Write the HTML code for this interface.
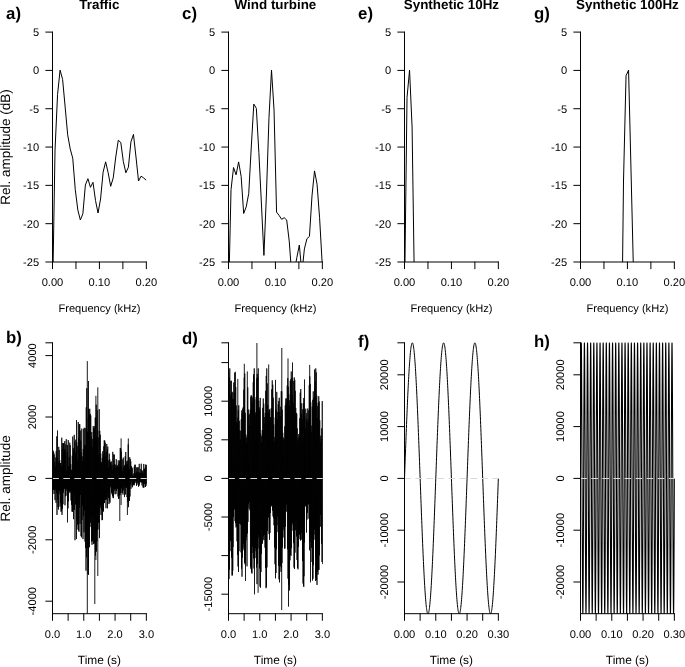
<!DOCTYPE html>
<html><head><meta charset="utf-8"><title>Figure</title>
<style>html,body{margin:0;padding:0;background:#fff;}svg{display:block;font-family:"Liberation Sans",sans-serif;text-rendering:geometricPrecision;}svg{will-change:transform;opacity:0.999}</style>
</head><body>
<svg width="685" height="667" viewBox="0 0 685 667">
<rect width="685" height="667" fill="#fff"/>
<clipPath id="c10"><rect x="52.00" y="30.10" width="95.35" height="231.90"/></clipPath>
<clipPath id="c20"><rect x="52.00" y="342.30" width="95.35" height="271.40"/></clipPath>
<clipPath id="c11"><rect x="228.00" y="30.10" width="95.35" height="231.90"/></clipPath>
<clipPath id="c21"><rect x="228.00" y="342.30" width="95.35" height="271.40"/></clipPath>
<clipPath id="c12"><rect x="404.00" y="30.10" width="95.35" height="231.90"/></clipPath>
<clipPath id="c22"><rect x="404.00" y="342.30" width="95.35" height="271.40"/></clipPath>
<clipPath id="c13"><rect x="580.00" y="30.10" width="95.35" height="231.90"/></clipPath>
<clipPath id="c23"><rect x="580.00" y="342.30" width="95.35" height="271.40"/></clipPath>
<path d="M52.50,300.00 L55.03,150.00 L57.56,94.60 L60.09,70.10 L62.62,79.50 L65.15,107.00 L67.68,134.80 L70.21,148.90 L72.74,158.20 L75.27,189.60 L77.80,209.90 L80.33,220.00 L82.86,213.80 L85.39,185.00 L87.92,178.70 L90.45,187.30 L92.98,182.30 L95.51,200.50 L98.04,213.00 L100.57,199.00 L103.10,172.20 L105.63,161.80 L108.16,172.80 L110.69,186.30 L113.22,177.90 L115.75,157.00 L118.28,140.20 L120.81,142.50 L123.34,161.60 L125.87,172.80 L128.40,167.20 L130.93,141.90 L133.46,134.40 L135.99,157.00 L138.52,181.00 L141.05,176.20 L143.58,177.90 L146.11,180.10" fill="none" stroke="#000" stroke-width="1.0" stroke-linejoin="round" clip-path="url(#c10)"/>
<line x1="52.50" y1="32.10" x2="52.50" y2="262.00" stroke="#000" stroke-width="1" stroke-linecap="round"/>
<line x1="45.80" y1="32.10" x2="52.50" y2="32.10" stroke="#000" stroke-width="1" stroke-linecap="round"/>
<text x="39.10" y="36.05" font-size="11.1" text-anchor="end" fill="#000">5</text>
<line x1="45.80" y1="70.42" x2="52.50" y2="70.42" stroke="#000" stroke-width="1" stroke-linecap="round"/>
<text x="39.10" y="74.37" font-size="11.1" text-anchor="end" fill="#000">0</text>
<line x1="45.80" y1="108.73" x2="52.50" y2="108.73" stroke="#000" stroke-width="1" stroke-linecap="round"/>
<text x="39.10" y="112.68" font-size="11.1" text-anchor="end" fill="#000">-5</text>
<line x1="45.80" y1="147.05" x2="52.50" y2="147.05" stroke="#000" stroke-width="1" stroke-linecap="round"/>
<text x="39.10" y="151.00" font-size="11.1" text-anchor="end" fill="#000">-10</text>
<line x1="45.80" y1="185.37" x2="52.50" y2="185.37" stroke="#000" stroke-width="1" stroke-linecap="round"/>
<text x="39.10" y="189.32" font-size="11.1" text-anchor="end" fill="#000">-15</text>
<line x1="45.80" y1="223.68" x2="52.50" y2="223.68" stroke="#000" stroke-width="1" stroke-linecap="round"/>
<text x="39.10" y="227.63" font-size="11.1" text-anchor="end" fill="#000">-20</text>
<line x1="45.80" y1="262.00" x2="52.50" y2="262.00" stroke="#000" stroke-width="1" stroke-linecap="round"/>
<text x="39.10" y="265.95" font-size="11.1" text-anchor="end" fill="#000">-25</text>
<line x1="52.50" y1="262.00" x2="146.35" y2="262.00" stroke="#000" stroke-width="1" stroke-linecap="round"/>
<line x1="52.50" y1="262.00" x2="52.50" y2="268.70" stroke="#000" stroke-width="1" stroke-linecap="round"/>
<text x="52.50" y="286.00" font-size="11.1" text-anchor="middle" fill="#000">0.00</text>
<line x1="75.96" y1="262.00" x2="75.96" y2="268.70" stroke="#000" stroke-width="1" stroke-linecap="round"/>
<line x1="99.42" y1="262.00" x2="99.42" y2="268.70" stroke="#000" stroke-width="1" stroke-linecap="round"/>
<text x="99.42" y="286.00" font-size="11.1" text-anchor="middle" fill="#000">0.10</text>
<line x1="122.89" y1="262.00" x2="122.89" y2="268.70" stroke="#000" stroke-width="1" stroke-linecap="round"/>
<line x1="146.35" y1="262.00" x2="146.35" y2="268.70" stroke="#000" stroke-width="1" stroke-linecap="round"/>
<text x="146.35" y="286.00" font-size="11.1" text-anchor="middle" fill="#000">0.20</text>
<text x="99.42" y="311.60" font-size="11.1" text-anchor="middle" fill="#000">Frequency (kHz)</text>
<text x="99.42" y="9.45" font-size="13.4" text-anchor="middle" font-weight="bold" fill="#000">Traffic</text>
<text x="6.10" y="18.80" font-size="16.8" text-anchor="start" font-weight="bold" fill="#000">a)</text>
<text x="6.10" y="342.50" font-size="16.8" text-anchor="start" font-weight="bold" fill="#000">b)</text>
<path d="M228.50,300.00 L231.03,189.60 L233.56,167.50 L236.09,174.80 L238.62,161.90 L241.15,176.40 L243.68,213.50 L246.21,206.80 L248.74,193.50 L251.27,147.00 L253.80,104.10 L256.33,108.30 L258.86,152.50 L261.39,203.00 L263.92,255.40 L266.45,194.00 L268.98,117.70 L271.51,70.10 L274.04,109.90 L276.57,212.20 L279.10,215.40 L281.63,219.30 L284.16,217.70 L286.69,220.00 L289.22,241.10 L291.75,275.00 L294.28,272.00 L296.81,257.70 L299.34,245.00 L301.87,273.00 L304.40,248.90 L306.93,238.70 L309.46,236.40 L311.99,195.90 L314.52,170.90 L317.05,184.20 L319.58,217.70 L322.11,262.00" fill="none" stroke="#000" stroke-width="1.0" stroke-linejoin="round" clip-path="url(#c11)"/>
<line x1="228.50" y1="32.10" x2="228.50" y2="262.00" stroke="#000" stroke-width="1" stroke-linecap="round"/>
<line x1="221.80" y1="32.10" x2="228.50" y2="32.10" stroke="#000" stroke-width="1" stroke-linecap="round"/>
<text x="215.10" y="36.05" font-size="11.1" text-anchor="end" fill="#000">5</text>
<line x1="221.80" y1="70.42" x2="228.50" y2="70.42" stroke="#000" stroke-width="1" stroke-linecap="round"/>
<text x="215.10" y="74.37" font-size="11.1" text-anchor="end" fill="#000">0</text>
<line x1="221.80" y1="108.73" x2="228.50" y2="108.73" stroke="#000" stroke-width="1" stroke-linecap="round"/>
<text x="215.10" y="112.68" font-size="11.1" text-anchor="end" fill="#000">-5</text>
<line x1="221.80" y1="147.05" x2="228.50" y2="147.05" stroke="#000" stroke-width="1" stroke-linecap="round"/>
<text x="215.10" y="151.00" font-size="11.1" text-anchor="end" fill="#000">-10</text>
<line x1="221.80" y1="185.37" x2="228.50" y2="185.37" stroke="#000" stroke-width="1" stroke-linecap="round"/>
<text x="215.10" y="189.32" font-size="11.1" text-anchor="end" fill="#000">-15</text>
<line x1="221.80" y1="223.68" x2="228.50" y2="223.68" stroke="#000" stroke-width="1" stroke-linecap="round"/>
<text x="215.10" y="227.63" font-size="11.1" text-anchor="end" fill="#000">-20</text>
<line x1="221.80" y1="262.00" x2="228.50" y2="262.00" stroke="#000" stroke-width="1" stroke-linecap="round"/>
<text x="215.10" y="265.95" font-size="11.1" text-anchor="end" fill="#000">-25</text>
<line x1="228.50" y1="262.00" x2="322.35" y2="262.00" stroke="#000" stroke-width="1" stroke-linecap="round"/>
<line x1="228.50" y1="262.00" x2="228.50" y2="268.70" stroke="#000" stroke-width="1" stroke-linecap="round"/>
<text x="228.50" y="286.00" font-size="11.1" text-anchor="middle" fill="#000">0.00</text>
<line x1="251.96" y1="262.00" x2="251.96" y2="268.70" stroke="#000" stroke-width="1" stroke-linecap="round"/>
<line x1="275.43" y1="262.00" x2="275.43" y2="268.70" stroke="#000" stroke-width="1" stroke-linecap="round"/>
<text x="275.43" y="286.00" font-size="11.1" text-anchor="middle" fill="#000">0.10</text>
<line x1="298.89" y1="262.00" x2="298.89" y2="268.70" stroke="#000" stroke-width="1" stroke-linecap="round"/>
<line x1="322.35" y1="262.00" x2="322.35" y2="268.70" stroke="#000" stroke-width="1" stroke-linecap="round"/>
<text x="322.35" y="286.00" font-size="11.1" text-anchor="middle" fill="#000">0.20</text>
<text x="275.43" y="311.60" font-size="11.1" text-anchor="middle" fill="#000">Frequency (kHz)</text>
<text x="275.43" y="9.45" font-size="13.4" text-anchor="middle" font-weight="bold" fill="#000">Wind turbine</text>
<text x="182.10" y="18.80" font-size="16.8" text-anchor="start" font-weight="bold" fill="#000">c)</text>
<text x="182.10" y="343.80" font-size="16.8" text-anchor="start" font-weight="bold" fill="#000">d)</text>
<path d="M404.50,300.00 L407.03,97.50 L409.56,70.10 L412.09,127.00 L414.62,300.00" fill="none" stroke="#000" stroke-width="1.0" stroke-linejoin="round" clip-path="url(#c12)"/>
<line x1="404.50" y1="32.10" x2="404.50" y2="262.00" stroke="#000" stroke-width="1" stroke-linecap="round"/>
<line x1="397.80" y1="32.10" x2="404.50" y2="32.10" stroke="#000" stroke-width="1" stroke-linecap="round"/>
<text x="391.10" y="36.05" font-size="11.1" text-anchor="end" fill="#000">5</text>
<line x1="397.80" y1="70.42" x2="404.50" y2="70.42" stroke="#000" stroke-width="1" stroke-linecap="round"/>
<text x="391.10" y="74.37" font-size="11.1" text-anchor="end" fill="#000">0</text>
<line x1="397.80" y1="108.73" x2="404.50" y2="108.73" stroke="#000" stroke-width="1" stroke-linecap="round"/>
<text x="391.10" y="112.68" font-size="11.1" text-anchor="end" fill="#000">-5</text>
<line x1="397.80" y1="147.05" x2="404.50" y2="147.05" stroke="#000" stroke-width="1" stroke-linecap="round"/>
<text x="391.10" y="151.00" font-size="11.1" text-anchor="end" fill="#000">-10</text>
<line x1="397.80" y1="185.37" x2="404.50" y2="185.37" stroke="#000" stroke-width="1" stroke-linecap="round"/>
<text x="391.10" y="189.32" font-size="11.1" text-anchor="end" fill="#000">-15</text>
<line x1="397.80" y1="223.68" x2="404.50" y2="223.68" stroke="#000" stroke-width="1" stroke-linecap="round"/>
<text x="391.10" y="227.63" font-size="11.1" text-anchor="end" fill="#000">-20</text>
<line x1="397.80" y1="262.00" x2="404.50" y2="262.00" stroke="#000" stroke-width="1" stroke-linecap="round"/>
<text x="391.10" y="265.95" font-size="11.1" text-anchor="end" fill="#000">-25</text>
<line x1="404.50" y1="262.00" x2="498.35" y2="262.00" stroke="#000" stroke-width="1" stroke-linecap="round"/>
<line x1="404.50" y1="262.00" x2="404.50" y2="268.70" stroke="#000" stroke-width="1" stroke-linecap="round"/>
<text x="404.50" y="286.00" font-size="11.1" text-anchor="middle" fill="#000">0.00</text>
<line x1="427.96" y1="262.00" x2="427.96" y2="268.70" stroke="#000" stroke-width="1" stroke-linecap="round"/>
<line x1="451.43" y1="262.00" x2="451.43" y2="268.70" stroke="#000" stroke-width="1" stroke-linecap="round"/>
<text x="451.43" y="286.00" font-size="11.1" text-anchor="middle" fill="#000">0.10</text>
<line x1="474.89" y1="262.00" x2="474.89" y2="268.70" stroke="#000" stroke-width="1" stroke-linecap="round"/>
<line x1="498.35" y1="262.00" x2="498.35" y2="268.70" stroke="#000" stroke-width="1" stroke-linecap="round"/>
<text x="498.35" y="286.00" font-size="11.1" text-anchor="middle" fill="#000">0.20</text>
<text x="451.43" y="311.60" font-size="11.1" text-anchor="middle" fill="#000">Frequency (kHz)</text>
<text x="451.43" y="9.45" font-size="13.4" text-anchor="middle" font-weight="bold" fill="#000">Synthetic 10Hz</text>
<text x="358.10" y="18.80" font-size="16.8" text-anchor="start" font-weight="bold" fill="#000">e)</text>
<text x="358.10" y="346.50" font-size="16.8" text-anchor="start" font-weight="bold" fill="#000">f)</text>
<path d="M620.98,400.00 L623.51,181.00 L626.04,75.70 L628.57,70.10 L631.10,174.00 L633.63,278.00 L636.16,400.00" fill="none" stroke="#000" stroke-width="1.0" stroke-linejoin="round" clip-path="url(#c13)"/>
<line x1="580.50" y1="32.10" x2="580.50" y2="262.00" stroke="#000" stroke-width="1" stroke-linecap="round"/>
<line x1="573.80" y1="32.10" x2="580.50" y2="32.10" stroke="#000" stroke-width="1" stroke-linecap="round"/>
<text x="567.10" y="36.05" font-size="11.1" text-anchor="end" fill="#000">5</text>
<line x1="573.80" y1="70.42" x2="580.50" y2="70.42" stroke="#000" stroke-width="1" stroke-linecap="round"/>
<text x="567.10" y="74.37" font-size="11.1" text-anchor="end" fill="#000">0</text>
<line x1="573.80" y1="108.73" x2="580.50" y2="108.73" stroke="#000" stroke-width="1" stroke-linecap="round"/>
<text x="567.10" y="112.68" font-size="11.1" text-anchor="end" fill="#000">-5</text>
<line x1="573.80" y1="147.05" x2="580.50" y2="147.05" stroke="#000" stroke-width="1" stroke-linecap="round"/>
<text x="567.10" y="151.00" font-size="11.1" text-anchor="end" fill="#000">-10</text>
<line x1="573.80" y1="185.37" x2="580.50" y2="185.37" stroke="#000" stroke-width="1" stroke-linecap="round"/>
<text x="567.10" y="189.32" font-size="11.1" text-anchor="end" fill="#000">-15</text>
<line x1="573.80" y1="223.68" x2="580.50" y2="223.68" stroke="#000" stroke-width="1" stroke-linecap="round"/>
<text x="567.10" y="227.63" font-size="11.1" text-anchor="end" fill="#000">-20</text>
<line x1="573.80" y1="262.00" x2="580.50" y2="262.00" stroke="#000" stroke-width="1" stroke-linecap="round"/>
<text x="567.10" y="265.95" font-size="11.1" text-anchor="end" fill="#000">-25</text>
<line x1="580.50" y1="262.00" x2="674.35" y2="262.00" stroke="#000" stroke-width="1" stroke-linecap="round"/>
<line x1="580.50" y1="262.00" x2="580.50" y2="268.70" stroke="#000" stroke-width="1" stroke-linecap="round"/>
<text x="580.50" y="286.00" font-size="11.1" text-anchor="middle" fill="#000">0.00</text>
<line x1="603.96" y1="262.00" x2="603.96" y2="268.70" stroke="#000" stroke-width="1" stroke-linecap="round"/>
<line x1="627.42" y1="262.00" x2="627.42" y2="268.70" stroke="#000" stroke-width="1" stroke-linecap="round"/>
<text x="627.42" y="286.00" font-size="11.1" text-anchor="middle" fill="#000">0.10</text>
<line x1="650.89" y1="262.00" x2="650.89" y2="268.70" stroke="#000" stroke-width="1" stroke-linecap="round"/>
<line x1="674.35" y1="262.00" x2="674.35" y2="268.70" stroke="#000" stroke-width="1" stroke-linecap="round"/>
<text x="674.35" y="286.00" font-size="11.1" text-anchor="middle" fill="#000">0.20</text>
<text x="627.42" y="311.60" font-size="11.1" text-anchor="middle" fill="#000">Frequency (kHz)</text>
<text x="627.42" y="9.45" font-size="13.4" text-anchor="middle" font-weight="bold" fill="#000">Synthetic 100Hz</text>
<text x="534.10" y="18.80" font-size="16.8" text-anchor="start" font-weight="bold" fill="#000">g)</text>
<text x="534.10" y="346.70" font-size="16.8" text-anchor="start" font-weight="bold" fill="#000">h)</text>
<text x="10.10" y="147.05" font-size="13.5" text-anchor="middle" transform="rotate(-90 10.10 147.05)" fill="#000">Rel. amplitude (dB)</text>
<text x="10.10" y="478.40" font-size="13.5" text-anchor="middle" transform="rotate(-90 10.10 478.40)" fill="#000">Rel. amplitude</text>
<path d="M52.75,464.54 L53.00,488.98 L53.25,450.69 L53.50,489.78 L53.75,452.54 L54.00,494.07 L54.25,454.44 L54.50,490.71 L54.75,462.19 L55.00,500.10 L55.25,466.18 L55.50,489.62 L55.75,457.49 L56.00,502.83 L56.25,450.96 L56.50,493.41 L56.75,436.35 L57.00,514.97 L57.25,457.57 L57.50,495.97 L57.75,470.74 L58.00,507.11 L58.25,461.85 L58.50,509.55 L58.75,446.87 L59.00,494.04 L59.25,450.06 L59.50,490.71 L59.75,460.19 L60.00,506.65 L60.25,463.16 L60.50,503.13 L60.75,463.00 L61.00,511.69 L61.25,465.95 L61.50,511.23 L61.75,437.69 L62.00,514.90 L62.25,449.40 L62.50,508.58 L62.75,443.27 L63.00,504.25 L63.25,443.18 L63.50,492.62 L63.75,443.08 L64.00,488.96 L64.25,448.90 L64.50,488.76 L64.75,441.17 L65.00,505.31 L65.25,450.25 L65.50,496.29 L65.75,444.43 L66.00,490.73 L66.25,439.19 L66.50,489.22 L66.75,470.48 L67.00,495.68 L67.25,452.44 L67.50,504.57 L67.75,466.70 L68.00,508.34 L68.25,440.05 L68.50,501.28 L68.75,465.91 L69.00,491.14 L69.25,456.82 L69.50,491.64 L69.75,442.68 L70.00,493.08 L70.25,445.13 L70.50,491.28 L70.75,464.25 L71.00,500.44 L71.25,469.90 L71.50,504.86 L71.75,469.83 L72.00,511.66 L72.25,455.56 L72.50,511.75 L72.75,436.56 L73.00,509.55 L73.25,447.93 L73.50,519.16 L73.75,450.60 L74.00,494.57 L74.25,434.85 L74.50,510.04 L74.75,441.72 L75.00,540.19 L75.25,452.68 L75.50,503.61 L75.75,439.62 L76.00,504.86 L76.25,454.62 L76.50,519.55 L76.75,442.56 L77.00,529.56 L77.25,445.94 L77.50,524.64 L77.75,459.57 L78.00,521.82 L78.25,421.96 L78.50,530.58 L78.75,437.41 L79.00,531.74 L79.25,424.24 L79.50,507.99 L79.75,424.11 L80.00,523.89 L80.25,430.64 L80.50,494.81 L80.75,440.56 L81.00,536.17 L81.25,452.24 L81.50,537.35 L81.75,428.61 L82.00,519.92 L82.25,456.39 L82.50,506.04 L82.75,461.05 L83.00,539.10 L83.25,448.94 L83.50,515.96 L83.75,428.86 L84.00,532.30 L84.25,427.75 L84.50,510.54 L84.75,445.23 L85.00,541.52 L85.25,445.30 L85.50,547.91 L85.75,428.09 L86.00,570.66 L86.25,407.36 L86.50,557.29 L86.75,388.22 L87.00,537.43 L87.25,433.26 L87.50,547.90 L87.75,431.53 L88.00,574.10 L88.25,417.84 L88.50,566.56 L88.75,409.16 L89.00,544.02 L89.25,414.93 L89.50,547.26 L89.75,408.78 L90.00,526.94 L90.25,413.85 L90.50,522.54 L90.75,415.49 L91.00,516.71 L91.25,437.23 L91.50,541.53 L91.75,431.99 L92.00,544.78 L92.25,447.27 L92.50,541.19 L92.75,439.00 L93.00,540.01 L93.25,425.99 L93.50,544.10 L93.75,428.08 L94.00,517.13 L94.25,428.91 L94.50,543.38 L94.75,426.17 L95.00,531.06 L95.25,417.60 L95.50,555.56 L95.75,417.86 L96.00,531.54 L96.25,404.67 L96.50,551.58 L96.75,436.79 L97.00,541.32 L97.25,410.26 L97.50,529.77 L97.75,430.52 L98.00,529.38 L98.25,437.46 L98.50,522.49 L98.75,455.17 L99.00,522.32 L99.25,409.18 L99.50,538.09 L99.75,430.81 L100.00,508.05 L100.25,434.79 L100.50,505.55 L100.75,453.44 L101.00,514.96 L101.25,462.04 L101.50,509.94 L101.75,462.45 L102.00,520.16 L102.25,457.94 L102.50,519.79 L102.75,451.26 L103.00,512.04 L103.25,454.75 L103.50,511.07 L103.75,446.34 L104.00,503.08 L104.25,440.29 L104.50,503.03 L104.75,440.65 L105.00,498.16 L105.25,442.73 L105.50,499.99 L105.75,456.41 L106.00,508.21 L106.25,451.95 L106.50,499.51 L106.75,443.96 L107.00,496.72 L107.25,449.54 L107.50,508.30 L107.75,446.62 L108.00,492.17 L108.25,460.42 L108.50,498.04 L108.75,466.92 L109.00,504.04 L109.25,453.67 L109.50,500.32 L109.75,459.41 L110.00,502.67 L110.25,462.40 L110.50,486.24 L110.75,462.17 L111.00,487.54 L111.25,461.40 L111.50,492.72 L111.75,464.68 L112.00,494.30 L112.25,470.17 L112.50,496.16 L112.75,451.84 L113.00,497.83 L113.25,465.11 L113.50,498.14 L113.75,454.28 L114.00,491.13 L114.25,454.80 L114.50,489.29 L114.75,464.20 L115.00,494.28 L115.25,467.88 L115.50,489.13 L115.75,464.83 L116.00,494.11 L116.25,459.14 L116.50,491.14 L116.75,466.88 L117.00,487.03 L117.25,465.59 L117.50,488.90 L117.75,465.67 L118.00,496.47 L118.25,460.38 L118.50,498.99 L118.75,463.84 L119.00,498.49 L119.25,468.39 L119.50,495.37 L119.75,461.06 L120.00,495.16 L120.25,447.96 L120.50,493.08 L120.75,448.41 L121.00,486.07 L121.25,451.43 L121.50,488.24 L121.75,466.31 L122.00,492.81 L122.25,471.45 L122.50,492.67 L122.75,459.56 L123.00,494.67 L123.25,457.57 L123.50,490.25 L123.75,467.38 L124.00,485.66 L124.25,466.70 L124.50,497.05 L124.75,464.92 L125.00,487.94 L125.25,456.26 L125.50,494.42 L125.75,452.00 L126.00,486.42 L126.25,464.33 L126.50,487.85 L126.75,461.19 L127.00,497.00 L127.25,463.85 L127.50,499.61 L127.75,460.62 L128.00,502.08 L128.25,444.40 L128.50,507.15 L128.75,467.15 L129.00,500.92 L129.25,469.42 L129.50,500.73 L129.75,457.26 L130.00,496.47 L130.25,459.14 L130.50,484.24 L130.75,461.41 L131.00,488.76 L131.25,466.01 L131.50,481.56 L131.75,467.11 L132.00,485.50 L132.25,468.20 L132.50,487.25 L132.75,475.09 L133.00,484.95 L133.25,475.89 L133.50,484.73 L133.75,473.40 L134.00,485.47 L134.25,466.86 L134.50,484.34 L134.75,464.84 L135.00,482.16 L135.25,464.71 L135.50,481.14 L135.75,473.97 L136.00,483.09 L136.25,471.71 L136.50,485.84 L136.75,467.36 L137.00,484.80 L137.25,467.40 L137.50,482.68 L137.75,472.19 L138.00,481.55 L138.25,467.31 L138.50,486.72 L138.75,472.42 L139.00,485.98 L139.25,463.89 L139.50,484.42 L139.75,472.55 L140.00,481.71 L140.25,473.06 L140.50,482.28 L140.75,468.96 L141.00,481.17 L141.25,463.73 L141.50,482.39 L141.75,470.89 L142.00,485.37 L142.25,472.65 L142.50,482.86 L142.75,470.51 L143.00,487.45 L143.25,472.97 L143.50,487.47 L143.75,463.94 L144.00,487.49 L144.25,468.79 L144.50,483.96 L144.75,469.27 L145.00,482.57 L145.25,467.55 L145.50,486.98 L145.75,464.49 L146.00,485.86 L146.25,464.97 L146.50,484.03" fill="none" stroke="#000" stroke-width="0.75" stroke-linejoin="round" clip-path="url(#c20)"/>
<line x1="87.30" y1="361.10" x2="87.30" y2="620.00" stroke="#000" stroke-width="0.9" clip-path="url(#c20)"/>
<line x1="88.50" y1="381.00" x2="88.50" y2="575.00" stroke="#000" stroke-width="0.9" clip-path="url(#c20)"/>
<line x1="97.80" y1="387.40" x2="97.80" y2="576.00" stroke="#000" stroke-width="0.9" clip-path="url(#c20)"/>
<line x1="95.90" y1="395.80" x2="95.90" y2="560.00" stroke="#000" stroke-width="0.9" clip-path="url(#c20)"/>
<line x1="94.80" y1="440.00" x2="94.80" y2="604.00" stroke="#000" stroke-width="0.9" clip-path="url(#c20)"/>
<line x1="57.50" y1="430.40" x2="57.50" y2="500.00" stroke="#000" stroke-width="0.9" clip-path="url(#c20)"/>
<line x1="121.10" y1="438.40" x2="121.10" y2="505.00" stroke="#000" stroke-width="0.9" clip-path="url(#c20)"/>
<line x1="128.30" y1="438.40" x2="128.30" y2="500.00" stroke="#000" stroke-width="0.9" clip-path="url(#c20)"/>
<line x1="119.80" y1="460.00" x2="119.80" y2="521.00" stroke="#000" stroke-width="0.9" clip-path="url(#c20)"/>
<line x1="127.40" y1="465.00" x2="127.40" y2="515.00" stroke="#000" stroke-width="0.9" clip-path="url(#c20)"/>
<line x1="76.50" y1="420.00" x2="76.50" y2="539.00" stroke="#000" stroke-width="0.9" clip-path="url(#c20)"/>
<line x1="67.50" y1="445.00" x2="67.50" y2="522.50" stroke="#000" stroke-width="0.9" clip-path="url(#c20)"/>
<path d="M228.75,372.10 L229.00,579.03 L229.25,377.13 L229.50,569.61 L229.75,368.40 L230.00,551.15 L230.25,380.81 L230.50,540.60 L230.75,394.76 L231.00,541.18 L231.25,401.92 L231.50,557.73 L231.75,392.88 L232.00,575.56 L232.25,391.82 L232.50,575.24 L232.75,399.44 L233.00,546.97 L233.25,398.75 L233.50,517.07 L233.75,382.49 L234.00,505.62 L234.25,392.82 L234.50,509.46 L234.75,372.80 L235.00,521.07 L235.25,371.82 L235.50,523.13 L235.75,387.16 L236.00,527.46 L236.25,405.52 L236.50,526.06 L236.75,421.77 L237.00,541.23 L237.25,423.84 L237.50,555.03 L237.75,417.76 L238.00,566.49 L238.25,410.23 L238.50,571.93 L238.75,405.31 L239.00,551.16 L239.25,420.86 L239.50,523.73 L239.75,430.25 L240.00,519.44 L240.25,439.35 L240.50,524.45 L240.75,430.85 L241.00,552.36 L241.25,419.34 L241.50,568.69 L241.75,410.40 L242.00,576.73 L242.25,413.79 L242.50,557.57 L242.75,408.54 L243.00,547.94 L243.25,407.21 L243.50,543.59 L243.75,389.71 L244.00,550.31 L244.25,377.67 L244.50,562.53 L244.75,373.48 L245.00,564.29 L245.25,412.83 L245.50,552.90 L245.75,434.34 L246.00,540.38 L246.25,437.72 L246.50,536.92 L246.75,442.64 L247.00,566.32 L247.25,435.51 L247.50,533.41 L247.75,387.40 L248.00,521.84 L248.25,409.52 L248.50,504.26 L248.75,415.11 L249.00,508.57 L249.25,425.26 L249.50,501.83 L249.75,413.77 L250.00,510.38 L250.25,409.66 L250.50,567.27 L250.75,396.71 L251.00,569.13 L251.25,395.23 L251.50,572.41 L251.75,395.91 L252.00,573.54 L252.25,402.68 L252.50,546.62 L252.75,397.60 L253.00,553.03 L253.25,382.25 L253.50,558.36 L253.75,374.09 L254.00,568.53 L254.25,368.40 L254.50,562.05 L254.75,399.38 L255.00,551.15 L255.25,412.36 L255.50,548.06 L255.75,414.92 L256.00,558.13 L256.25,397.00 L256.50,567.52 L256.75,378.38 L257.00,584.15 L257.25,373.89 L257.50,563.91 L257.75,377.29 L258.00,548.49 L258.25,368.40 L258.50,534.98 L258.75,400.75 L259.00,538.20 L259.25,407.29 L259.50,568.36 L259.75,410.30 L260.00,586.61 L260.25,397.90 L260.50,587.74 L260.75,433.76 L261.00,572.01 L261.25,442.64 L261.50,553.94 L261.75,436.15 L262.00,530.45 L262.25,430.07 L262.50,543.65 L262.75,407.89 L263.00,539.62 L263.25,398.48 L263.50,536.41 L263.75,403.65 L264.00,540.29 L264.25,417.03 L264.50,534.96 L264.75,423.39 L265.00,547.63 L265.25,412.98 L265.50,568.08 L265.75,390.82 L266.00,588.19 L266.25,375.93 L266.50,587.06 L266.75,368.40 L267.00,567.37 L267.25,383.38 L267.50,531.10 L267.75,405.03 L268.00,517.82 L268.25,413.19 L268.50,517.02 L268.75,411.91 L269.00,534.14 L269.25,409.75 L269.50,539.73 L269.75,409.35 L270.00,532.95 L270.25,417.05 L270.50,512.98 L270.75,417.48 L271.00,506.64 L271.25,408.13 L271.50,505.60 L271.75,389.38 L272.00,505.16 L272.25,380.37 L272.50,510.60 L272.75,384.68 L273.00,516.35 L273.25,397.76 L273.50,518.15 L273.75,424.37 L274.00,525.22 L274.25,441.23 L274.50,547.49 L274.75,436.96 L275.00,564.25 L275.25,417.31 L275.50,578.33 L275.75,409.28 L276.00,573.01 L276.25,410.76 L276.50,549.29 L276.75,391.86 L277.00,525.21 L277.25,419.06 L277.50,516.41 L277.75,412.01 L278.00,532.08 L278.25,404.47 L278.50,565.91 L278.75,401.05 L279.00,579.34 L279.25,397.78 L279.50,582.38 L279.75,411.67 L280.00,566.78 L280.25,416.08 L280.50,565.50 L280.75,406.70 L281.00,571.83 L281.25,391.20 L281.50,567.74 L281.75,391.47 L282.00,563.14 L282.25,409.79 L282.50,547.54 L282.75,432.74 L283.00,537.59 L283.25,437.49 L283.50,527.18 L283.75,439.80 L284.00,530.26 L284.25,438.78 L284.50,548.57 L284.75,426.36 L285.00,548.45 L285.25,405.45 L285.50,526.63 L285.75,398.52 L286.00,511.51 L286.25,402.61 L286.50,504.38 L286.75,398.26 L287.00,511.68 L287.25,385.49 L287.50,549.24 L287.75,378.20 L288.00,578.64 L288.25,386.68 L288.50,584.48 L288.75,394.32 L289.00,584.55 L289.25,405.84 L289.50,590.40 L289.75,400.19 L290.00,560.24 L290.25,380.93 L290.50,554.77 L290.75,379.25 L291.00,555.92 L291.25,371.50 L291.50,548.17 L291.75,377.82 L292.00,524.54 L292.25,395.40 L292.50,522.73 L292.75,409.85 L293.00,530.54 L293.25,402.74 L293.50,543.18 L293.75,380.99 L294.00,567.57 L294.25,377.43 L294.50,568.94 L294.75,379.88 L295.00,552.65 L295.25,390.76 L295.50,530.22 L295.75,407.96 L296.00,520.52 L296.25,412.92 L296.50,536.44 L296.75,413.65 L297.00,559.95 L297.25,428.43 L297.50,567.86 L297.75,440.51 L298.00,569.31 L298.25,437.89 L298.50,546.97 L298.75,434.01 L299.00,534.39 L299.25,436.02 L299.50,534.62 L299.75,418.24 L300.00,539.21 L300.25,392.67 L300.50,540.56 L300.75,389.09 L301.00,539.29 L301.25,403.32 L301.50,532.78 L301.75,413.80 L302.00,539.90 L302.25,419.26 L302.50,561.01 L302.75,409.23 L303.00,583.49 L303.25,403.20 L303.50,586.45 L303.75,397.95 L304.00,576.19 L304.25,409.79 L304.50,542.63 L304.75,416.40 L305.00,504.45 L305.25,428.47 L305.50,505.87 L305.75,408.68 L306.00,506.66 L306.25,419.08 L306.50,532.56 L306.75,413.04 L307.00,519.58 L307.25,422.18 L307.50,512.77 L307.75,408.50 L308.00,502.64 L308.25,419.31 L308.50,504.39 L308.75,410.53 L309.00,518.63 L309.25,385.16 L309.50,550.30 L309.75,376.32 L310.00,542.29 L310.25,383.94 L310.50,533.98 L310.75,402.25 L311.00,537.80 L311.25,425.62 L311.50,547.84 L311.75,431.99 L312.00,562.01 L312.25,406.77 L312.50,580.53 L312.75,399.85 L313.00,578.75 L313.25,391.36 L313.50,565.14 L313.75,397.42 L314.00,539.69 L314.25,398.06 L314.50,530.03 L314.75,387.57 L315.00,534.46 L315.25,381.23 L315.50,557.87 L315.75,368.40 L316.00,577.80 L316.25,372.40 L316.50,580.25 L316.75,395.67 L317.00,584.92 L317.25,418.02 L317.50,571.45 L317.75,406.07 L318.00,574.70 L318.25,402.86 L318.50,570.04 L318.75,396.24 L319.00,569.91 L319.25,401.49 L319.50,555.35 L319.75,420.31 L320.00,526.94 L320.25,441.75 L320.50,514.87 L320.75,435.67 L321.00,526.29 L321.25,438.51 L321.50,543.71 L321.75,428.33 L322.00,562.02 L322.25,401.17 L322.50,564.20" fill="none" stroke="#000" stroke-width="0.75" stroke-linejoin="round" clip-path="url(#c21)"/>
<line x1="231.50" y1="380.70" x2="231.50" y2="478.40" stroke="#000" stroke-width="0.9" clip-path="url(#c21)"/>
<line x1="237.80" y1="378.90" x2="237.80" y2="478.40" stroke="#000" stroke-width="0.9" clip-path="url(#c21)"/>
<line x1="244.30" y1="363.80" x2="244.30" y2="478.40" stroke="#000" stroke-width="0.9" clip-path="url(#c21)"/>
<line x1="247.30" y1="371.40" x2="247.30" y2="478.40" stroke="#000" stroke-width="0.9" clip-path="url(#c21)"/>
<line x1="253.60" y1="375.70" x2="253.60" y2="478.40" stroke="#000" stroke-width="0.9" clip-path="url(#c21)"/>
<line x1="256.90" y1="343.00" x2="256.90" y2="478.40" stroke="#000" stroke-width="0.9" clip-path="url(#c21)"/>
<line x1="268.70" y1="364.40" x2="268.70" y2="478.40" stroke="#000" stroke-width="0.9" clip-path="url(#c21)"/>
<line x1="275.50" y1="379.90" x2="275.50" y2="478.40" stroke="#000" stroke-width="0.9" clip-path="url(#c21)"/>
<line x1="281.80" y1="348.00" x2="281.80" y2="478.40" stroke="#000" stroke-width="0.9" clip-path="url(#c21)"/>
<line x1="288.00" y1="358.40" x2="288.00" y2="478.40" stroke="#000" stroke-width="0.9" clip-path="url(#c21)"/>
<line x1="292.50" y1="362.40" x2="292.50" y2="478.40" stroke="#000" stroke-width="0.9" clip-path="url(#c21)"/>
<line x1="304.50" y1="379.40" x2="304.50" y2="478.40" stroke="#000" stroke-width="0.9" clip-path="url(#c21)"/>
<line x1="309.70" y1="364.90" x2="309.70" y2="478.40" stroke="#000" stroke-width="0.9" clip-path="url(#c21)"/>
<line x1="314.50" y1="369.40" x2="314.50" y2="478.40" stroke="#000" stroke-width="0.9" clip-path="url(#c21)"/>
<line x1="281.70" y1="478.40" x2="281.70" y2="610.00" stroke="#000" stroke-width="0.9" clip-path="url(#c21)"/>
<line x1="288.50" y1="478.40" x2="288.50" y2="606.70" stroke="#000" stroke-width="0.9" clip-path="url(#c21)"/>
<line x1="254.50" y1="478.40" x2="254.50" y2="594.40" stroke="#000" stroke-width="0.9" clip-path="url(#c21)"/>
<line x1="258.10" y1="478.40" x2="258.10" y2="592.80" stroke="#000" stroke-width="0.9" clip-path="url(#c21)"/>
<line x1="303.90" y1="478.40" x2="303.90" y2="586.90" stroke="#000" stroke-width="0.9" clip-path="url(#c21)"/>
<line x1="310.50" y1="478.40" x2="310.50" y2="582.40" stroke="#000" stroke-width="0.9" clip-path="url(#c21)"/>
<line x1="315.50" y1="478.40" x2="315.50" y2="581.00" stroke="#000" stroke-width="0.9" clip-path="url(#c21)"/>
<line x1="245.50" y1="478.40" x2="245.50" y2="581.00" stroke="#000" stroke-width="0.9" clip-path="url(#c21)"/>
<line x1="232.90" y1="478.40" x2="232.90" y2="570.70" stroke="#000" stroke-width="0.9" clip-path="url(#c21)"/>
<path d="M404.50,478.40 L404.66,474.14 L404.81,469.89 L404.97,465.64 L405.13,461.40 L405.28,457.19 L405.44,452.99 L405.59,448.82 L405.75,444.68 L405.91,440.57 L406.06,436.50 L406.22,432.47 L406.38,428.48 L406.53,424.55 L406.69,420.66 L406.85,416.84 L407.00,413.07 L407.16,409.37 L407.32,405.74 L407.47,402.18 L407.63,398.70 L407.78,395.29 L407.94,391.97 L408.10,388.73 L408.25,385.58 L408.41,382.52 L408.57,379.55 L408.72,376.68 L408.88,373.92 L409.04,371.25 L409.19,368.70 L409.35,366.25 L409.51,363.91 L409.66,361.68 L409.82,359.57 L409.97,357.58 L410.13,355.71 L410.29,353.95 L410.44,352.32 L410.60,350.82 L410.76,349.44 L410.91,348.18 L411.07,347.06 L411.23,346.07 L411.38,345.20 L411.54,344.47 L411.70,343.87 L411.85,343.40 L412.01,343.07 L412.16,342.87 L412.32,342.80 L412.48,342.87 L412.63,343.07 L412.79,343.40 L412.95,343.87 L413.10,344.47 L413.26,345.20 L413.42,346.07 L413.57,347.06 L413.73,348.18 L413.88,349.44 L414.04,350.82 L414.20,352.32 L414.35,353.95 L414.51,355.71 L414.67,357.58 L414.82,359.57 L414.98,361.68 L415.14,363.91 L415.29,366.25 L415.45,368.70 L415.61,371.25 L415.76,373.92 L415.92,376.68 L416.07,379.55 L416.23,382.52 L416.39,385.58 L416.54,388.73 L416.70,391.97 L416.86,395.29 L417.01,398.70 L417.17,402.18 L417.33,405.74 L417.48,409.37 L417.64,413.07 L417.80,416.84 L417.95,420.66 L418.11,424.55 L418.26,428.48 L418.42,432.47 L418.58,436.50 L418.73,440.57 L418.89,444.68 L419.05,448.82 L419.20,452.99 L419.36,457.19 L419.52,461.40 L419.67,465.64 L419.83,469.89 L419.99,474.14 L420.14,478.40 L420.30,482.66 L420.45,486.91 L420.61,491.16 L420.77,495.40 L420.92,499.61 L421.08,503.81 L421.24,507.98 L421.39,512.12 L421.55,516.23 L421.71,520.30 L421.86,524.33 L422.02,528.32 L422.18,532.25 L422.33,536.14 L422.49,539.96 L422.64,543.73 L422.80,547.43 L422.96,551.06 L423.11,554.62 L423.27,558.10 L423.43,561.51 L423.58,564.83 L423.74,568.07 L423.90,571.22 L424.05,574.28 L424.21,577.25 L424.36,580.12 L424.52,582.88 L424.68,585.55 L424.83,588.10 L424.99,590.55 L425.15,592.89 L425.30,595.12 L425.46,597.23 L425.62,599.22 L425.77,601.09 L425.93,602.85 L426.09,604.48 L426.24,605.98 L426.40,607.36 L426.55,608.62 L426.71,609.74 L426.87,610.73 L427.02,611.60 L427.18,612.33 L427.34,612.93 L427.49,613.40 L427.65,613.73 L427.81,613.93 L427.96,614.00 L428.12,613.93 L428.28,613.73 L428.43,613.40 L428.59,612.93 L428.74,612.33 L428.90,611.60 L429.06,610.73 L429.21,609.74 L429.37,608.62 L429.53,607.36 L429.68,605.98 L429.84,604.48 L430.00,602.85 L430.15,601.09 L430.31,599.22 L430.47,597.23 L430.62,595.12 L430.78,592.89 L430.93,590.55 L431.09,588.10 L431.25,585.55 L431.40,582.88 L431.56,580.12 L431.72,577.25 L431.87,574.28 L432.03,571.22 L432.19,568.07 L432.34,564.83 L432.50,561.51 L432.65,558.10 L432.81,554.62 L432.97,551.06 L433.12,547.43 L433.28,543.73 L433.44,539.96 L433.59,536.14 L433.75,532.25 L433.91,528.32 L434.06,524.33 L434.22,520.30 L434.38,516.23 L434.53,512.12 L434.69,507.98 L434.84,503.81 L435.00,499.61 L435.16,495.40 L435.31,491.16 L435.47,486.91 L435.63,482.66 L435.78,478.40 L435.94,474.14 L436.10,469.89 L436.25,465.64 L436.41,461.40 L436.57,457.19 L436.72,452.99 L436.88,448.82 L437.03,444.68 L437.19,440.57 L437.35,436.50 L437.50,432.47 L437.66,428.48 L437.82,424.55 L437.97,420.66 L438.13,416.84 L438.29,413.07 L438.44,409.37 L438.60,405.74 L438.76,402.18 L438.91,398.70 L439.07,395.29 L439.22,391.97 L439.38,388.73 L439.54,385.58 L439.69,382.52 L439.85,379.55 L440.01,376.68 L440.16,373.92 L440.32,371.25 L440.48,368.70 L440.63,366.25 L440.79,363.91 L440.95,361.68 L441.10,359.57 L441.26,357.58 L441.41,355.71 L441.57,353.95 L441.73,352.32 L441.88,350.82 L442.04,349.44 L442.20,348.18 L442.35,347.06 L442.51,346.07 L442.67,345.20 L442.82,344.47 L442.98,343.87 L443.13,343.40 L443.29,343.07 L443.45,342.87 L443.60,342.80 L443.76,342.87 L443.92,343.07 L444.07,343.40 L444.23,343.87 L444.39,344.47 L444.54,345.20 L444.70,346.07 L444.86,347.06 L445.01,348.18 L445.17,349.44 L445.32,350.82 L445.48,352.32 L445.64,353.95 L445.79,355.71 L445.95,357.58 L446.11,359.57 L446.26,361.68 L446.42,363.91 L446.58,366.25 L446.73,368.70 L446.89,371.25 L447.05,373.92 L447.20,376.68 L447.36,379.55 L447.51,382.52 L447.67,385.58 L447.83,388.73 L447.98,391.97 L448.14,395.29 L448.30,398.70 L448.45,402.18 L448.61,405.74 L448.77,409.37 L448.92,413.07 L449.08,416.84 L449.24,420.66 L449.39,424.55 L449.55,428.48 L449.70,432.47 L449.86,436.50 L450.02,440.57 L450.17,444.68 L450.33,448.82 L450.49,452.99 L450.64,457.19 L450.80,461.40 L450.96,465.64 L451.11,469.89 L451.27,474.14 L451.43,478.40 L451.58,482.66 L451.74,486.91 L451.89,491.16 L452.05,495.40 L452.21,499.61 L452.36,503.81 L452.52,507.98 L452.68,512.12 L452.83,516.23 L452.99,520.30 L453.15,524.33 L453.30,528.32 L453.46,532.25 L453.61,536.14 L453.77,539.96 L453.93,543.73 L454.08,547.43 L454.24,551.06 L454.40,554.62 L454.55,558.10 L454.71,561.51 L454.87,564.83 L455.02,568.07 L455.18,571.22 L455.34,574.28 L455.49,577.25 L455.65,580.12 L455.80,582.88 L455.96,585.55 L456.12,588.10 L456.27,590.55 L456.43,592.89 L456.59,595.12 L456.74,597.23 L456.90,599.22 L457.06,601.09 L457.21,602.85 L457.37,604.48 L457.53,605.98 L457.68,607.36 L457.84,608.62 L457.99,609.74 L458.15,610.73 L458.31,611.60 L458.46,612.33 L458.62,612.93 L458.78,613.40 L458.93,613.73 L459.09,613.93 L459.25,614.00 L459.40,613.93 L459.56,613.73 L459.72,613.40 L459.87,612.93 L460.03,612.33 L460.18,611.60 L460.34,610.73 L460.50,609.74 L460.65,608.62 L460.81,607.36 L460.97,605.98 L461.12,604.48 L461.28,602.85 L461.44,601.09 L461.59,599.22 L461.75,597.23 L461.90,595.12 L462.06,592.89 L462.22,590.55 L462.37,588.10 L462.53,585.55 L462.69,582.88 L462.84,580.12 L463.00,577.25 L463.16,574.28 L463.31,571.22 L463.47,568.07 L463.63,564.83 L463.78,561.51 L463.94,558.10 L464.09,554.62 L464.25,551.06 L464.41,547.43 L464.56,543.73 L464.72,539.96 L464.88,536.14 L465.03,532.25 L465.19,528.32 L465.35,524.33 L465.50,520.30 L465.66,516.23 L465.82,512.12 L465.97,507.98 L466.13,503.81 L466.28,499.61 L466.44,495.40 L466.60,491.16 L466.75,486.91 L466.91,482.66 L467.07,478.40 L467.22,474.14 L467.38,469.89 L467.54,465.64 L467.69,461.40 L467.85,457.19 L468.01,452.99 L468.16,448.82 L468.32,444.68 L468.47,440.57 L468.63,436.50 L468.79,432.47 L468.94,428.48 L469.10,424.55 L469.26,420.66 L469.41,416.84 L469.57,413.07 L469.73,409.37 L469.88,405.74 L470.04,402.18 L470.19,398.70 L470.35,395.29 L470.51,391.97 L470.66,388.73 L470.82,385.58 L470.98,382.52 L471.13,379.55 L471.29,376.68 L471.45,373.92 L471.60,371.25 L471.76,368.70 L471.92,366.25 L472.07,363.91 L472.23,361.68 L472.38,359.57 L472.54,357.58 L472.70,355.71 L472.85,353.95 L473.01,352.32 L473.17,350.82 L473.32,349.44 L473.48,348.18 L473.64,347.06 L473.79,346.07 L473.95,345.20 L474.11,344.47 L474.26,343.87 L474.42,343.40 L474.57,343.07 L474.73,342.87 L474.89,342.80 L475.04,342.87 L475.20,343.07 L475.36,343.40 L475.51,343.87 L475.67,344.47 L475.83,345.20 L475.98,346.07 L476.14,347.06 L476.30,348.18 L476.45,349.44 L476.61,350.82 L476.76,352.32 L476.92,353.95 L477.08,355.71 L477.23,357.58 L477.39,359.57 L477.55,361.68 L477.70,363.91 L477.86,366.25 L478.02,368.70 L478.17,371.25 L478.33,373.92 L478.49,376.68 L478.64,379.55 L478.80,382.52 L478.95,385.58 L479.11,388.73 L479.27,391.97 L479.42,395.29 L479.58,398.70 L479.74,402.18 L479.89,405.74 L480.05,409.37 L480.21,413.07 L480.36,416.84 L480.52,420.66 L480.67,424.55 L480.83,428.48 L480.99,432.47 L481.14,436.50 L481.30,440.57 L481.46,444.68 L481.61,448.82 L481.77,452.99 L481.93,457.19 L482.08,461.40 L482.24,465.64 L482.40,469.89 L482.55,474.14 L482.71,478.40 L482.86,482.66 L483.02,486.91 L483.18,491.16 L483.33,495.40 L483.49,499.61 L483.65,503.81 L483.80,507.98 L483.96,512.12 L484.12,516.23 L484.27,520.30 L484.43,524.33 L484.59,528.32 L484.74,532.25 L484.90,536.14 L485.05,539.96 L485.21,543.73 L485.37,547.43 L485.52,551.06 L485.68,554.62 L485.84,558.10 L485.99,561.51 L486.15,564.83 L486.31,568.07 L486.46,571.22 L486.62,574.28 L486.78,577.25 L486.93,580.12 L487.09,582.88 L487.24,585.55 L487.40,588.10 L487.56,590.55 L487.71,592.89 L487.87,595.12 L488.03,597.23 L488.18,599.22 L488.34,601.09 L488.50,602.85 L488.65,604.48 L488.81,605.98 L488.97,607.36 L489.12,608.62 L489.28,609.74 L489.43,610.73 L489.59,611.60 L489.75,612.33 L489.90,612.93 L490.06,613.40 L490.22,613.73 L490.37,613.93 L490.53,614.00 L490.69,613.93 L490.84,613.73 L491.00,613.40 L491.15,612.93 L491.31,612.33 L491.47,611.60 L491.62,610.73 L491.78,609.74 L491.94,608.62 L492.09,607.36 L492.25,605.98 L492.41,604.48 L492.56,602.85 L492.72,601.09 L492.88,599.22 L493.03,597.23 L493.19,595.12 L493.34,592.89 L493.50,590.55 L493.66,588.10 L493.81,585.55 L493.97,582.88 L494.13,580.12 L494.28,577.25 L494.44,574.28 L494.60,571.22 L494.75,568.07 L494.91,564.83 L495.07,561.51 L495.22,558.10 L495.38,554.62 L495.53,551.06 L495.69,547.43 L495.85,543.73 L496.00,539.96 L496.16,536.14 L496.32,532.25 L496.47,528.32 L496.63,524.33 L496.79,520.30 L496.94,516.23 L497.10,512.12 L497.26,507.98 L497.41,503.81 L497.57,499.61 L497.72,495.40 L497.88,491.16 L498.04,486.91 L498.19,482.66 L498.35,478.40" fill="none" stroke="#000" stroke-width="1.0" stroke-linejoin="round" clip-path="url(#c22)"/>
<path d="M580.50,478.40 L580.52,474.14 L580.53,469.89 L580.55,465.64 L580.56,461.40 L580.58,457.19 L580.59,452.99 L580.61,448.82 L580.63,444.68 L580.64,440.57 L580.66,436.50 L580.67,432.47 L580.69,428.48 L580.70,424.55 L580.72,420.66 L580.73,416.84 L580.75,413.07 L580.77,409.37 L580.78,405.74 L580.80,402.18 L580.81,398.70 L580.83,395.29 L580.84,391.97 L580.86,388.73 L580.88,385.58 L580.89,382.52 L580.91,379.55 L580.92,376.68 L580.94,373.92 L580.95,371.25 L580.97,368.70 L580.98,366.25 L581.00,363.91 L581.02,361.68 L581.03,359.57 L581.05,357.58 L581.06,355.71 L581.08,353.95 L581.09,352.32 L581.11,350.82 L581.13,349.44 L581.14,348.18 L581.16,347.06 L581.17,346.07 L581.19,345.20 L581.20,344.47 L581.22,343.87 L581.24,343.40 L581.25,343.07 L581.27,342.87 L581.28,342.80 L581.30,342.87 L581.31,343.07 L581.33,343.40 L581.34,343.87 L581.36,344.47 L581.38,345.20 L581.39,346.07 L581.41,347.06 L581.42,348.18 L581.44,349.44 L581.45,350.82 L581.47,352.32 L581.49,353.95 L581.50,355.71 L581.52,357.58 L581.53,359.57 L581.55,361.68 L581.56,363.91 L581.58,366.25 L581.59,368.70 L581.61,371.25 L581.63,373.92 L581.64,376.68 L581.66,379.55 L581.67,382.52 L581.69,385.58 L581.70,388.73 L581.72,391.97 L581.74,395.29 L581.75,398.70 L581.77,402.18 L581.78,405.74 L581.80,409.37 L581.81,413.07 L581.83,416.84 L581.85,420.66 L581.86,424.55 L581.88,428.48 L581.89,432.47 L581.91,436.50 L581.92,440.57 L581.94,444.68 L581.95,448.82 L581.97,452.99 L581.99,457.19 L582.00,461.40 L582.02,465.64 L582.03,469.89 L582.05,474.14 L582.06,478.40 L582.08,482.66 L582.10,486.91 L582.11,491.16 L582.13,495.40 L582.14,499.61 L582.16,503.81 L582.17,507.98 L582.19,512.12 L582.20,516.23 L582.22,520.30 L582.24,524.33 L582.25,528.32 L582.27,532.25 L582.28,536.14 L582.30,539.96 L582.31,543.73 L582.33,547.43 L582.35,551.06 L582.36,554.62 L582.38,558.10 L582.39,561.51 L582.41,564.83 L582.42,568.07 L582.44,571.22 L582.46,574.28 L582.47,577.25 L582.49,580.12 L582.50,582.88 L582.52,585.55 L582.53,588.10 L582.55,590.55 L582.56,592.89 L582.58,595.12 L582.60,597.23 L582.61,599.22 L582.63,601.09 L582.64,602.85 L582.66,604.48 L582.67,605.98 L582.69,607.36 L582.71,608.62 L582.72,609.74 L582.74,610.73 L582.75,611.60 L582.77,612.33 L582.78,612.93 L582.80,613.40 L582.81,613.73 L582.83,613.93 L582.85,614.00 L582.86,613.93 L582.88,613.73 L582.89,613.40 L582.91,612.93 L582.92,612.33 L582.94,611.60 L582.96,610.73 L582.97,609.74 L582.99,608.62 L583.00,607.36 L583.02,605.98 L583.03,604.48 L583.05,602.85 L583.07,601.09 L583.08,599.22 L583.10,597.23 L583.11,595.12 L583.13,592.89 L583.14,590.55 L583.16,588.10 L583.17,585.55 L583.19,582.88 L583.21,580.12 L583.22,577.25 L583.24,574.28 L583.25,571.22 L583.27,568.07 L583.28,564.83 L583.30,561.51 L583.32,558.10 L583.33,554.62 L583.35,551.06 L583.36,547.43 L583.38,543.73 L583.39,539.96 L583.41,536.14 L583.42,532.25 L583.44,528.32 L583.46,524.33 L583.47,520.30 L583.49,516.23 L583.50,512.12 L583.52,507.98 L583.53,503.81 L583.55,499.61 L583.57,495.40 L583.58,491.16 L583.60,486.91 L583.61,482.66 L583.63,478.40 L583.64,474.14 L583.66,469.89 L583.68,465.64 L583.69,461.40 L583.71,457.19 L583.72,452.99 L583.74,448.82 L583.75,444.68 L583.77,440.57 L583.78,436.50 L583.80,432.47 L583.82,428.48 L583.83,424.55 L583.85,420.66 L583.86,416.84 L583.88,413.07 L583.89,409.37 L583.91,405.74 L583.93,402.18 L583.94,398.70 L583.96,395.29 L583.97,391.97 L583.99,388.73 L584.00,385.58 L584.02,382.52 L584.04,379.55 L584.05,376.68 L584.07,373.92 L584.08,371.25 L584.10,368.70 L584.11,366.25 L584.13,363.91 L584.14,361.68 L584.16,359.57 L584.18,357.58 L584.19,355.71 L584.21,353.95 L584.22,352.32 L584.24,350.82 L584.25,349.44 L584.27,348.18 L584.29,347.06 L584.30,346.07 L584.32,345.20 L584.33,344.47 L584.35,343.87 L584.36,343.40 L584.38,343.07 L584.39,342.87 L584.41,342.80 L584.43,342.87 L584.44,343.07 L584.46,343.40 L584.47,343.87 L584.49,344.47 L584.50,345.20 L584.52,346.07 L584.54,347.06 L584.55,348.18 L584.57,349.44 L584.58,350.82 L584.60,352.32 L584.61,353.95 L584.63,355.71 L584.65,357.58 L584.66,359.57 L584.68,361.68 L584.69,363.91 L584.71,366.25 L584.72,368.70 L584.74,371.25 L584.75,373.92 L584.77,376.68 L584.79,379.55 L584.80,382.52 L584.82,385.58 L584.83,388.73 L584.85,391.97 L584.86,395.29 L584.88,398.70 L584.90,402.18 L584.91,405.74 L584.93,409.37 L584.94,413.07 L584.96,416.84 L584.97,420.66 L584.99,424.55 L585.00,428.48 L585.02,432.47 L585.04,436.50 L585.05,440.57 L585.07,444.68 L585.08,448.82 L585.10,452.99 L585.11,457.19 L585.13,461.40 L585.15,465.64 L585.16,469.89 L585.18,474.14 L585.19,478.40 L585.21,482.66 L585.22,486.91 L585.24,491.16 L585.26,495.40 L585.27,499.61 L585.29,503.81 L585.30,507.98 L585.32,512.12 L585.33,516.23 L585.35,520.30 L585.36,524.33 L585.38,528.32 L585.40,532.25 L585.41,536.14 L585.43,539.96 L585.44,543.73 L585.46,547.43 L585.47,551.06 L585.49,554.62 L585.51,558.10 L585.52,561.51 L585.54,564.83 L585.55,568.07 L585.57,571.22 L585.58,574.28 L585.60,577.25 L585.61,580.12 L585.63,582.88 L585.65,585.55 L585.66,588.10 L585.68,590.55 L585.69,592.89 L585.71,595.12 L585.72,597.23 L585.74,599.22 L585.76,601.09 L585.77,602.85 L585.79,604.48 L585.80,605.98 L585.82,607.36 L585.83,608.62 L585.85,609.74 L585.87,610.73 L585.88,611.60 L585.90,612.33 L585.91,612.93 L585.93,613.40 L585.94,613.73 L585.96,613.93 L585.97,614.00 L585.99,613.93 L586.01,613.73 L586.02,613.40 L586.04,612.93 L586.05,612.33 L586.07,611.60 L586.08,610.73 L586.10,609.74 L586.12,608.62 L586.13,607.36 L586.15,605.98 L586.16,604.48 L586.18,602.85 L586.19,601.09 L586.21,599.22 L586.22,597.23 L586.24,595.12 L586.26,592.89 L586.27,590.55 L586.29,588.10 L586.30,585.55 L586.32,582.88 L586.33,580.12 L586.35,577.25 L586.37,574.28 L586.38,571.22 L586.40,568.07 L586.41,564.83 L586.43,561.51 L586.44,558.10 L586.46,554.62 L586.48,551.06 L586.49,547.43 L586.51,543.73 L586.52,539.96 L586.54,536.14 L586.55,532.25 L586.57,528.32 L586.58,524.33 L586.60,520.30 L586.62,516.23 L586.63,512.12 L586.65,507.98 L586.66,503.81 L586.68,499.61 L586.69,495.40 L586.71,491.16 L586.73,486.91 L586.74,482.66 L586.76,478.40 L586.77,474.14 L586.79,469.89 L586.80,465.64 L586.82,461.40 L586.83,457.19 L586.85,452.99 L586.87,448.82 L586.88,444.68 L586.90,440.57 L586.91,436.50 L586.93,432.47 L586.94,428.48 L586.96,424.55 L586.98,420.66 L586.99,416.84 L587.01,413.07 L587.02,409.37 L587.04,405.74 L587.05,402.18 L587.07,398.70 L587.09,395.29 L587.10,391.97 L587.12,388.73 L587.13,385.58 L587.15,382.52 L587.16,379.55 L587.18,376.68 L587.19,373.92 L587.21,371.25 L587.23,368.70 L587.24,366.25 L587.26,363.91 L587.27,361.68 L587.29,359.57 L587.30,357.58 L587.32,355.71 L587.34,353.95 L587.35,352.32 L587.37,350.82 L587.38,349.44 L587.40,348.18 L587.41,347.06 L587.43,346.07 L587.44,345.20 L587.46,344.47 L587.48,343.87 L587.49,343.40 L587.51,343.07 L587.52,342.87 L587.54,342.80 L587.55,342.87 L587.57,343.07 L587.59,343.40 L587.60,343.87 L587.62,344.47 L587.63,345.20 L587.65,346.07 L587.66,347.06 L587.68,348.18 L587.70,349.44 L587.71,350.82 L587.73,352.32 L587.74,353.95 L587.76,355.71 L587.77,357.58 L587.79,359.57 L587.80,361.68 L587.82,363.91 L587.84,366.25 L587.85,368.70 L587.87,371.25 L587.88,373.92 L587.90,376.68 L587.91,379.55 L587.93,382.52 L587.95,385.58 L587.96,388.73 L587.98,391.97 L587.99,395.29 L588.01,398.70 L588.02,402.18 L588.04,405.74 L588.05,409.37 L588.07,413.07 L588.09,416.84 L588.10,420.66 L588.12,424.55 L588.13,428.48 L588.15,432.47 L588.16,436.50 L588.18,440.57 L588.20,444.68 L588.21,448.82 L588.23,452.99 L588.24,457.19 L588.26,461.40 L588.27,465.64 L588.29,469.89 L588.31,474.14 L588.32,478.40 L588.34,482.66 L588.35,486.91 L588.37,491.16 L588.38,495.40 L588.40,499.61 L588.41,503.81 L588.43,507.98 L588.45,512.12 L588.46,516.23 L588.48,520.30 L588.49,524.33 L588.51,528.32 L588.52,532.25 L588.54,536.14 L588.56,539.96 L588.57,543.73 L588.59,547.43 L588.60,551.06 L588.62,554.62 L588.63,558.10 L588.65,561.51 L588.66,564.83 L588.68,568.07 L588.70,571.22 L588.71,574.28 L588.73,577.25 L588.74,580.12 L588.76,582.88 L588.77,585.55 L588.79,588.10 L588.81,590.55 L588.82,592.89 L588.84,595.12 L588.85,597.23 L588.87,599.22 L588.88,601.09 L588.90,602.85 L588.92,604.48 L588.93,605.98 L588.95,607.36 L588.96,608.62 L588.98,609.74 L588.99,610.73 L589.01,611.60 L589.02,612.33 L589.04,612.93 L589.06,613.40 L589.07,613.73 L589.09,613.93 L589.10,614.00 L589.12,613.93 L589.13,613.73 L589.15,613.40 L589.17,612.93 L589.18,612.33 L589.20,611.60 L589.21,610.73 L589.23,609.74 L589.24,608.62 L589.26,607.36 L589.27,605.98 L589.29,604.48 L589.31,602.85 L589.32,601.09 L589.34,599.22 L589.35,597.23 L589.37,595.12 L589.38,592.89 L589.40,590.55 L589.42,588.10 L589.43,585.55 L589.45,582.88 L589.46,580.12 L589.48,577.25 L589.49,574.28 L589.51,571.22 L589.53,568.07 L589.54,564.83 L589.56,561.51 L589.57,558.10 L589.59,554.62 L589.60,551.06 L589.62,547.43 L589.63,543.73 L589.65,539.96 L589.67,536.14 L589.68,532.25 L589.70,528.32 L589.71,524.33 L589.73,520.30 L589.74,516.23 L589.76,512.12 L589.78,507.98 L589.79,503.81 L589.81,499.61 L589.82,495.40 L589.84,491.16 L589.85,486.91 L589.87,482.66 L589.88,478.40 L589.90,474.14 L589.92,469.89 L589.93,465.64 L589.95,461.40 L589.96,457.19 L589.98,452.99 L589.99,448.82 L590.01,444.68 L590.03,440.57 L590.04,436.50 L590.06,432.47 L590.07,428.48 L590.09,424.55 L590.10,420.66 L590.12,416.84 L590.14,413.07 L590.15,409.37 L590.17,405.74 L590.18,402.18 L590.20,398.70 L590.21,395.29 L590.23,391.97 L590.24,388.73 L590.26,385.58 L590.28,382.52 L590.29,379.55 L590.31,376.68 L590.32,373.92 L590.34,371.25 L590.35,368.70 L590.37,366.25 L590.39,363.91 L590.40,361.68 L590.42,359.57 L590.43,357.58 L590.45,355.71 L590.46,353.95 L590.48,352.32 L590.50,350.82 L590.51,349.44 L590.53,348.18 L590.54,347.06 L590.56,346.07 L590.57,345.20 L590.59,344.47 L590.60,343.87 L590.62,343.40 L590.64,343.07 L590.65,342.87 L590.67,342.80 L590.68,342.87 L590.70,343.07 L590.71,343.40 L590.73,343.87 L590.75,344.47 L590.76,345.20 L590.78,346.07 L590.79,347.06 L590.81,348.18 L590.82,349.44 L590.84,350.82 L590.85,352.32 L590.87,353.95 L590.89,355.71 L590.90,357.58 L590.92,359.57 L590.93,361.68 L590.95,363.91 L590.96,366.25 L590.98,368.70 L591.00,371.25 L591.01,373.92 L591.03,376.68 L591.04,379.55 L591.06,382.52 L591.07,385.58 L591.09,388.73 L591.11,391.97 L591.12,395.29 L591.14,398.70 L591.15,402.18 L591.17,405.74 L591.18,409.37 L591.20,413.07 L591.21,416.84 L591.23,420.66 L591.25,424.55 L591.26,428.48 L591.28,432.47 L591.29,436.50 L591.31,440.57 L591.32,444.68 L591.34,448.82 L591.36,452.99 L591.37,457.19 L591.39,461.40 L591.40,465.64 L591.42,469.89 L591.43,474.14 L591.45,478.40 L591.46,482.66 L591.48,486.91 L591.50,491.16 L591.51,495.40 L591.53,499.61 L591.54,503.81 L591.56,507.98 L591.57,512.12 L591.59,516.23 L591.61,520.30 L591.62,524.33 L591.64,528.32 L591.65,532.25 L591.67,536.14 L591.68,539.96 L591.70,543.73 L591.72,547.43 L591.73,551.06 L591.75,554.62 L591.76,558.10 L591.78,561.51 L591.79,564.83 L591.81,568.07 L591.82,571.22 L591.84,574.28 L591.86,577.25 L591.87,580.12 L591.89,582.88 L591.90,585.55 L591.92,588.10 L591.93,590.55 L591.95,592.89 L591.97,595.12 L591.98,597.23 L592.00,599.22 L592.01,601.09 L592.03,602.85 L592.04,604.48 L592.06,605.98 L592.07,607.36 L592.09,608.62 L592.11,609.74 L592.12,610.73 L592.14,611.60 L592.15,612.33 L592.17,612.93 L592.18,613.40 L592.20,613.73 L592.22,613.93 L592.23,614.00 L592.25,613.93 L592.26,613.73 L592.28,613.40 L592.29,612.93 L592.31,612.33 L592.33,611.60 L592.34,610.73 L592.36,609.74 L592.37,608.62 L592.39,607.36 L592.40,605.98 L592.42,604.48 L592.43,602.85 L592.45,601.09 L592.47,599.22 L592.48,597.23 L592.50,595.12 L592.51,592.89 L592.53,590.55 L592.54,588.10 L592.56,585.55 L592.58,582.88 L592.59,580.12 L592.61,577.25 L592.62,574.28 L592.64,571.22 L592.65,568.07 L592.67,564.83 L592.68,561.51 L592.70,558.10 L592.72,554.62 L592.73,551.06 L592.75,547.43 L592.76,543.73 L592.78,539.96 L592.79,536.14 L592.81,532.25 L592.83,528.32 L592.84,524.33 L592.86,520.30 L592.87,516.23 L592.89,512.12 L592.90,507.98 L592.92,503.81 L592.94,499.61 L592.95,495.40 L592.97,491.16 L592.98,486.91 L593.00,482.66 L593.01,478.40 L593.03,474.14 L593.04,469.89 L593.06,465.64 L593.08,461.40 L593.09,457.19 L593.11,452.99 L593.12,448.82 L593.14,444.68 L593.15,440.57 L593.17,436.50 L593.19,432.47 L593.20,428.48 L593.22,424.55 L593.23,420.66 L593.25,416.84 L593.26,413.07 L593.28,409.37 L593.29,405.74 L593.31,402.18 L593.33,398.70 L593.34,395.29 L593.36,391.97 L593.37,388.73 L593.39,385.58 L593.40,382.52 L593.42,379.55 L593.44,376.68 L593.45,373.92 L593.47,371.25 L593.48,368.70 L593.50,366.25 L593.51,363.91 L593.53,361.68 L593.55,359.57 L593.56,357.58 L593.58,355.71 L593.59,353.95 L593.61,352.32 L593.62,350.82 L593.64,349.44 L593.65,348.18 L593.67,347.06 L593.69,346.07 L593.70,345.20 L593.72,344.47 L593.73,343.87 L593.75,343.40 L593.76,343.07 L593.78,342.87 L593.80,342.80 L593.81,342.87 L593.83,343.07 L593.84,343.40 L593.86,343.87 L593.87,344.47 L593.89,345.20 L593.90,346.07 L593.92,347.06 L593.94,348.18 L593.95,349.44 L593.97,350.82 L593.98,352.32 L594.00,353.95 L594.01,355.71 L594.03,357.58 L594.05,359.57 L594.06,361.68 L594.08,363.91 L594.09,366.25 L594.11,368.70 L594.12,371.25 L594.14,373.92 L594.16,376.68 L594.17,379.55 L594.19,382.52 L594.20,385.58 L594.22,388.73 L594.23,391.97 L594.25,395.29 L594.26,398.70 L594.28,402.18 L594.30,405.74 L594.31,409.37 L594.33,413.07 L594.34,416.84 L594.36,420.66 L594.37,424.55 L594.39,428.48 L594.41,432.47 L594.42,436.50 L594.44,440.57 L594.45,444.68 L594.47,448.82 L594.48,452.99 L594.50,457.19 L594.51,461.40 L594.53,465.64 L594.55,469.89 L594.56,474.14 L594.58,478.40 L594.59,482.66 L594.61,486.91 L594.62,491.16 L594.64,495.40 L594.66,499.61 L594.67,503.81 L594.69,507.98 L594.70,512.12 L594.72,516.23 L594.73,520.30 L594.75,524.33 L594.77,528.32 L594.78,532.25 L594.80,536.14 L594.81,539.96 L594.83,543.73 L594.84,547.43 L594.86,551.06 L594.87,554.62 L594.89,558.10 L594.91,561.51 L594.92,564.83 L594.94,568.07 L594.95,571.22 L594.97,574.28 L594.98,577.25 L595.00,580.12 L595.02,582.88 L595.03,585.55 L595.05,588.10 L595.06,590.55 L595.08,592.89 L595.09,595.12 L595.11,597.23 L595.12,599.22 L595.14,601.09 L595.16,602.85 L595.17,604.48 L595.19,605.98 L595.20,607.36 L595.22,608.62 L595.23,609.74 L595.25,610.73 L595.27,611.60 L595.28,612.33 L595.30,612.93 L595.31,613.40 L595.33,613.73 L595.34,613.93 L595.36,614.00 L595.38,613.93 L595.39,613.73 L595.41,613.40 L595.42,612.93 L595.44,612.33 L595.45,611.60 L595.47,610.73 L595.48,609.74 L595.50,608.62 L595.52,607.36 L595.53,605.98 L595.55,604.48 L595.56,602.85 L595.58,601.09 L595.59,599.22 L595.61,597.23 L595.63,595.12 L595.64,592.89 L595.66,590.55 L595.67,588.10 L595.69,585.55 L595.70,582.88 L595.72,580.12 L595.73,577.25 L595.75,574.28 L595.77,571.22 L595.78,568.07 L595.80,564.83 L595.81,561.51 L595.83,558.10 L595.84,554.62 L595.86,551.06 L595.88,547.43 L595.89,543.73 L595.91,539.96 L595.92,536.14 L595.94,532.25 L595.95,528.32 L595.97,524.33 L595.99,520.30 L596.00,516.23 L596.02,512.12 L596.03,507.98 L596.05,503.81 L596.06,499.61 L596.08,495.40 L596.09,491.16 L596.11,486.91 L596.13,482.66 L596.14,478.40 L596.16,474.14 L596.17,469.89 L596.19,465.64 L596.20,461.40 L596.22,457.19 L596.24,452.99 L596.25,448.82 L596.27,444.68 L596.28,440.57 L596.30,436.50 L596.31,432.47 L596.33,428.48 L596.35,424.55 L596.36,420.66 L596.38,416.84 L596.39,413.07 L596.41,409.37 L596.42,405.74 L596.44,402.18 L596.45,398.70 L596.47,395.29 L596.49,391.97 L596.50,388.73 L596.52,385.58 L596.53,382.52 L596.55,379.55 L596.56,376.68 L596.58,373.92 L596.60,371.25 L596.61,368.70 L596.63,366.25 L596.64,363.91 L596.66,361.68 L596.67,359.57 L596.69,357.58 L596.70,355.71 L596.72,353.95 L596.74,352.32 L596.75,350.82 L596.77,349.44 L596.78,348.18 L596.80,347.06 L596.81,346.07 L596.83,345.20 L596.85,344.47 L596.86,343.87 L596.88,343.40 L596.89,343.07 L596.91,342.87 L596.92,342.80 L596.94,342.87 L596.96,343.07 L596.97,343.40 L596.99,343.87 L597.00,344.47 L597.02,345.20 L597.03,346.07 L597.05,347.06 L597.06,348.18 L597.08,349.44 L597.10,350.82 L597.11,352.32 L597.13,353.95 L597.14,355.71 L597.16,357.58 L597.17,359.57 L597.19,361.68 L597.21,363.91 L597.22,366.25 L597.24,368.70 L597.25,371.25 L597.27,373.92 L597.28,376.68 L597.30,379.55 L597.31,382.52 L597.33,385.58 L597.35,388.73 L597.36,391.97 L597.38,395.29 L597.39,398.70 L597.41,402.18 L597.42,405.74 L597.44,409.37 L597.46,413.07 L597.47,416.84 L597.49,420.66 L597.50,424.55 L597.52,428.48 L597.53,432.47 L597.55,436.50 L597.57,440.57 L597.58,444.68 L597.60,448.82 L597.61,452.99 L597.63,457.19 L597.64,461.40 L597.66,465.64 L597.67,469.89 L597.69,474.14 L597.71,478.40 L597.72,482.66 L597.74,486.91 L597.75,491.16 L597.77,495.40 L597.78,499.61 L597.80,503.81 L597.82,507.98 L597.83,512.12 L597.85,516.23 L597.86,520.30 L597.88,524.33 L597.89,528.32 L597.91,532.25 L597.92,536.14 L597.94,539.96 L597.96,543.73 L597.97,547.43 L597.99,551.06 L598.00,554.62 L598.02,558.10 L598.03,561.51 L598.05,564.83 L598.07,568.07 L598.08,571.22 L598.10,574.28 L598.11,577.25 L598.13,580.12 L598.14,582.88 L598.16,585.55 L598.18,588.10 L598.19,590.55 L598.21,592.89 L598.22,595.12 L598.24,597.23 L598.25,599.22 L598.27,601.09 L598.28,602.85 L598.30,604.48 L598.32,605.98 L598.33,607.36 L598.35,608.62 L598.36,609.74 L598.38,610.73 L598.39,611.60 L598.41,612.33 L598.43,612.93 L598.44,613.40 L598.46,613.73 L598.47,613.93 L598.49,614.00 L598.50,613.93 L598.52,613.73 L598.53,613.40 L598.55,612.93 L598.57,612.33 L598.58,611.60 L598.60,610.73 L598.61,609.74 L598.63,608.62 L598.64,607.36 L598.66,605.98 L598.68,604.48 L598.69,602.85 L598.71,601.09 L598.72,599.22 L598.74,597.23 L598.75,595.12 L598.77,592.89 L598.79,590.55 L598.80,588.10 L598.82,585.55 L598.83,582.88 L598.85,580.12 L598.86,577.25 L598.88,574.28 L598.89,571.22 L598.91,568.07 L598.93,564.83 L598.94,561.51 L598.96,558.10 L598.97,554.62 L598.99,551.06 L599.00,547.43 L599.02,543.73 L599.04,539.96 L599.05,536.14 L599.07,532.25 L599.08,528.32 L599.10,524.33 L599.11,520.30 L599.13,516.23 L599.14,512.12 L599.16,507.98 L599.18,503.81 L599.19,499.61 L599.21,495.40 L599.22,491.16 L599.24,486.91 L599.25,482.66 L599.27,478.40 L599.29,474.14 L599.30,469.89 L599.32,465.64 L599.33,461.40 L599.35,457.19 L599.36,452.99 L599.38,448.82 L599.40,444.68 L599.41,440.57 L599.43,436.50 L599.44,432.47 L599.46,428.48 L599.47,424.55 L599.49,420.66 L599.50,416.84 L599.52,413.07 L599.54,409.37 L599.55,405.74 L599.57,402.18 L599.58,398.70 L599.60,395.29 L599.61,391.97 L599.63,388.73 L599.65,385.58 L599.66,382.52 L599.68,379.55 L599.69,376.68 L599.71,373.92 L599.72,371.25 L599.74,368.70 L599.75,366.25 L599.77,363.91 L599.79,361.68 L599.80,359.57 L599.82,357.58 L599.83,355.71 L599.85,353.95 L599.86,352.32 L599.88,350.82 L599.90,349.44 L599.91,348.18 L599.93,347.06 L599.94,346.07 L599.96,345.20 L599.97,344.47 L599.99,343.87 L600.01,343.40 L600.02,343.07 L600.04,342.87 L600.05,342.80 L600.07,342.87 L600.08,343.07 L600.10,343.40 L600.11,343.87 L600.13,344.47 L600.15,345.20 L600.16,346.07 L600.18,347.06 L600.19,348.18 L600.21,349.44 L600.22,350.82 L600.24,352.32 L600.26,353.95 L600.27,355.71 L600.29,357.58 L600.30,359.57 L600.32,361.68 L600.33,363.91 L600.35,366.25 L600.36,368.70 L600.38,371.25 L600.40,373.92 L600.41,376.68 L600.43,379.55 L600.44,382.52 L600.46,385.58 L600.47,388.73 L600.49,391.97 L600.51,395.29 L600.52,398.70 L600.54,402.18 L600.55,405.74 L600.57,409.37 L600.58,413.07 L600.60,416.84 L600.62,420.66 L600.63,424.55 L600.65,428.48 L600.66,432.47 L600.68,436.50 L600.69,440.57 L600.71,444.68 L600.72,448.82 L600.74,452.99 L600.76,457.19 L600.77,461.40 L600.79,465.64 L600.80,469.89 L600.82,474.14 L600.83,478.40 L600.85,482.66 L600.87,486.91 L600.88,491.16 L600.90,495.40 L600.91,499.61 L600.93,503.81 L600.94,507.98 L600.96,512.12 L600.97,516.23 L600.99,520.30 L601.01,524.33 L601.02,528.32 L601.04,532.25 L601.05,536.14 L601.07,539.96 L601.08,543.73 L601.10,547.43 L601.12,551.06 L601.13,554.62 L601.15,558.10 L601.16,561.51 L601.18,564.83 L601.19,568.07 L601.21,571.22 L601.23,574.28 L601.24,577.25 L601.26,580.12 L601.27,582.88 L601.29,585.55 L601.30,588.10 L601.32,590.55 L601.33,592.89 L601.35,595.12 L601.37,597.23 L601.38,599.22 L601.40,601.09 L601.41,602.85 L601.43,604.48 L601.44,605.98 L601.46,607.36 L601.48,608.62 L601.49,609.74 L601.51,610.73 L601.52,611.60 L601.54,612.33 L601.55,612.93 L601.57,613.40 L601.58,613.73 L601.60,613.93 L601.62,614.00 L601.63,613.93 L601.65,613.73 L601.66,613.40 L601.68,612.93 L601.69,612.33 L601.71,611.60 L601.73,610.73 L601.74,609.74 L601.76,608.62 L601.77,607.36 L601.79,605.98 L601.80,604.48 L601.82,602.85 L601.84,601.09 L601.85,599.22 L601.87,597.23 L601.88,595.12 L601.90,592.89 L601.91,590.55 L601.93,588.10 L601.94,585.55 L601.96,582.88 L601.98,580.12 L601.99,577.25 L602.01,574.28 L602.02,571.22 L602.04,568.07 L602.05,564.83 L602.07,561.51 L602.09,558.10 L602.10,554.62 L602.12,551.06 L602.13,547.43 L602.15,543.73 L602.16,539.96 L602.18,536.14 L602.19,532.25 L602.21,528.32 L602.23,524.33 L602.24,520.30 L602.26,516.23 L602.27,512.12 L602.29,507.98 L602.30,503.81 L602.32,499.61 L602.34,495.40 L602.35,491.16 L602.37,486.91 L602.38,482.66 L602.40,478.40 L602.41,474.14 L602.43,469.89 L602.45,465.64 L602.46,461.40 L602.48,457.19 L602.49,452.99 L602.51,448.82 L602.52,444.68 L602.54,440.57 L602.55,436.50 L602.57,432.47 L602.59,428.48 L602.60,424.55 L602.62,420.66 L602.63,416.84 L602.65,413.07 L602.66,409.37 L602.68,405.74 L602.70,402.18 L602.71,398.70 L602.73,395.29 L602.74,391.97 L602.76,388.73 L602.77,385.58 L602.79,382.52 L602.81,379.55 L602.82,376.68 L602.84,373.92 L602.85,371.25 L602.87,368.70 L602.88,366.25 L602.90,363.91 L602.91,361.68 L602.93,359.57 L602.95,357.58 L602.96,355.71 L602.98,353.95 L602.99,352.32 L603.01,350.82 L603.02,349.44 L603.04,348.18 L603.06,347.06 L603.07,346.07 L603.09,345.20 L603.10,344.47 L603.12,343.87 L603.13,343.40 L603.15,343.07 L603.16,342.87 L603.18,342.80 L603.20,342.87 L603.21,343.07 L603.23,343.40 L603.24,343.87 L603.26,344.47 L603.27,345.20 L603.29,346.07 L603.31,347.06 L603.32,348.18 L603.34,349.44 L603.35,350.82 L603.37,352.32 L603.38,353.95 L603.40,355.71 L603.42,357.58 L603.43,359.57 L603.45,361.68 L603.46,363.91 L603.48,366.25 L603.49,368.70 L603.51,371.25 L603.52,373.92 L603.54,376.68 L603.56,379.55 L603.57,382.52 L603.59,385.58 L603.60,388.73 L603.62,391.97 L603.63,395.29 L603.65,398.70 L603.67,402.18 L603.68,405.74 L603.70,409.37 L603.71,413.07 L603.73,416.84 L603.74,420.66 L603.76,424.55 L603.77,428.48 L603.79,432.47 L603.81,436.50 L603.82,440.57 L603.84,444.68 L603.85,448.82 L603.87,452.99 L603.88,457.19 L603.90,461.40 L603.92,465.64 L603.93,469.89 L603.95,474.14 L603.96,478.40 L603.98,482.66 L603.99,486.91 L604.01,491.16 L604.03,495.40 L604.04,499.61 L604.06,503.81 L604.07,507.98 L604.09,512.12 L604.10,516.23 L604.12,520.30 L604.13,524.33 L604.15,528.32 L604.17,532.25 L604.18,536.14 L604.20,539.96 L604.21,543.73 L604.23,547.43 L604.24,551.06 L604.26,554.62 L604.28,558.10 L604.29,561.51 L604.31,564.83 L604.32,568.07 L604.34,571.22 L604.35,574.28 L604.37,577.25 L604.38,580.12 L604.40,582.88 L604.42,585.55 L604.43,588.10 L604.45,590.55 L604.46,592.89 L604.48,595.12 L604.49,597.23 L604.51,599.22 L604.53,601.09 L604.54,602.85 L604.56,604.48 L604.57,605.98 L604.59,607.36 L604.60,608.62 L604.62,609.74 L604.64,610.73 L604.65,611.60 L604.67,612.33 L604.68,612.93 L604.70,613.40 L604.71,613.73 L604.73,613.93 L604.74,614.00 L604.76,613.93 L604.78,613.73 L604.79,613.40 L604.81,612.93 L604.82,612.33 L604.84,611.60 L604.85,610.73 L604.87,609.74 L604.89,608.62 L604.90,607.36 L604.92,605.98 L604.93,604.48 L604.95,602.85 L604.96,601.09 L604.98,599.22 L604.99,597.23 L605.01,595.12 L605.03,592.89 L605.04,590.55 L605.06,588.10 L605.07,585.55 L605.09,582.88 L605.10,580.12 L605.12,577.25 L605.14,574.28 L605.15,571.22 L605.17,568.07 L605.18,564.83 L605.20,561.51 L605.21,558.10 L605.23,554.62 L605.25,551.06 L605.26,547.43 L605.28,543.73 L605.29,539.96 L605.31,536.14 L605.32,532.25 L605.34,528.32 L605.35,524.33 L605.37,520.30 L605.39,516.23 L605.40,512.12 L605.42,507.98 L605.43,503.81 L605.45,499.61 L605.46,495.40 L605.48,491.16 L605.50,486.91 L605.51,482.66 L605.53,478.40 L605.54,474.14 L605.56,469.89 L605.57,465.64 L605.59,461.40 L605.60,457.19 L605.62,452.99 L605.64,448.82 L605.65,444.68 L605.67,440.57 L605.68,436.50 L605.70,432.47 L605.71,428.48 L605.73,424.55 L605.75,420.66 L605.76,416.84 L605.78,413.07 L605.79,409.37 L605.81,405.74 L605.82,402.18 L605.84,398.70 L605.86,395.29 L605.87,391.97 L605.89,388.73 L605.90,385.58 L605.92,382.52 L605.93,379.55 L605.95,376.68 L605.96,373.92 L605.98,371.25 L606.00,368.70 L606.01,366.25 L606.03,363.91 L606.04,361.68 L606.06,359.57 L606.07,357.58 L606.09,355.71 L606.11,353.95 L606.12,352.32 L606.14,350.82 L606.15,349.44 L606.17,348.18 L606.18,347.06 L606.20,346.07 L606.21,345.20 L606.23,344.47 L606.25,343.87 L606.26,343.40 L606.28,343.07 L606.29,342.87 L606.31,342.80 L606.32,342.87 L606.34,343.07 L606.36,343.40 L606.37,343.87 L606.39,344.47 L606.40,345.20 L606.42,346.07 L606.43,347.06 L606.45,348.18 L606.47,349.44 L606.48,350.82 L606.50,352.32 L606.51,353.95 L606.53,355.71 L606.54,357.58 L606.56,359.57 L606.57,361.68 L606.59,363.91 L606.61,366.25 L606.62,368.70 L606.64,371.25 L606.65,373.92 L606.67,376.68 L606.68,379.55 L606.70,382.52 L606.72,385.58 L606.73,388.73 L606.75,391.97 L606.76,395.29 L606.78,398.70 L606.79,402.18 L606.81,405.74 L606.82,409.37 L606.84,413.07 L606.86,416.84 L606.87,420.66 L606.89,424.55 L606.90,428.48 L606.92,432.47 L606.93,436.50 L606.95,440.57 L606.97,444.68 L606.98,448.82 L607.00,452.99 L607.01,457.19 L607.03,461.40 L607.04,465.64 L607.06,469.89 L607.08,474.14 L607.09,478.40 L607.11,482.66 L607.12,486.91 L607.14,491.16 L607.15,495.40 L607.17,499.61 L607.18,503.81 L607.20,507.98 L607.22,512.12 L607.23,516.23 L607.25,520.30 L607.26,524.33 L607.28,528.32 L607.29,532.25 L607.31,536.14 L607.33,539.96 L607.34,543.73 L607.36,547.43 L607.37,551.06 L607.39,554.62 L607.40,558.10 L607.42,561.51 L607.43,564.83 L607.45,568.07 L607.47,571.22 L607.48,574.28 L607.50,577.25 L607.51,580.12 L607.53,582.88 L607.54,585.55 L607.56,588.10 L607.58,590.55 L607.59,592.89 L607.61,595.12 L607.62,597.23 L607.64,599.22 L607.65,601.09 L607.67,602.85 L607.69,604.48 L607.70,605.98 L607.72,607.36 L607.73,608.62 L607.75,609.74 L607.76,610.73 L607.78,611.60 L607.79,612.33 L607.81,612.93 L607.83,613.40 L607.84,613.73 L607.86,613.93 L607.87,614.00 L607.89,613.93 L607.90,613.73 L607.92,613.40 L607.94,612.93 L607.95,612.33 L607.97,611.60 L607.98,610.73 L608.00,609.74 L608.01,608.62 L608.03,607.36 L608.04,605.98 L608.06,604.48 L608.08,602.85 L608.09,601.09 L608.11,599.22 L608.12,597.23 L608.14,595.12 L608.15,592.89 L608.17,590.55 L608.19,588.10 L608.20,585.55 L608.22,582.88 L608.23,580.12 L608.25,577.25 L608.26,574.28 L608.28,571.22 L608.30,568.07 L608.31,564.83 L608.33,561.51 L608.34,558.10 L608.36,554.62 L608.37,551.06 L608.39,547.43 L608.40,543.73 L608.42,539.96 L608.44,536.14 L608.45,532.25 L608.47,528.32 L608.48,524.33 L608.50,520.30 L608.51,516.23 L608.53,512.12 L608.55,507.98 L608.56,503.81 L608.58,499.61 L608.59,495.40 L608.61,491.16 L608.62,486.91 L608.64,482.66 L608.65,478.40 L608.67,474.14 L608.69,469.89 L608.70,465.64 L608.72,461.40 L608.73,457.19 L608.75,452.99 L608.76,448.82 L608.78,444.68 L608.80,440.57 L608.81,436.50 L608.83,432.47 L608.84,428.48 L608.86,424.55 L608.87,420.66 L608.89,416.84 L608.91,413.07 L608.92,409.37 L608.94,405.74 L608.95,402.18 L608.97,398.70 L608.98,395.29 L609.00,391.97 L609.01,388.73 L609.03,385.58 L609.05,382.52 L609.06,379.55 L609.08,376.68 L609.09,373.92 L609.11,371.25 L609.12,368.70 L609.14,366.25 L609.16,363.91 L609.17,361.68 L609.19,359.57 L609.20,357.58 L609.22,355.71 L609.23,353.95 L609.25,352.32 L609.27,350.82 L609.28,349.44 L609.30,348.18 L609.31,347.06 L609.33,346.07 L609.34,345.20 L609.36,344.47 L609.37,343.87 L609.39,343.40 L609.41,343.07 L609.42,342.87 L609.44,342.80 L609.45,342.87 L609.47,343.07 L609.48,343.40 L609.50,343.87 L609.52,344.47 L609.53,345.20 L609.55,346.07 L609.56,347.06 L609.58,348.18 L609.59,349.44 L609.61,350.82 L609.62,352.32 L609.64,353.95 L609.66,355.71 L609.67,357.58 L609.69,359.57 L609.70,361.68 L609.72,363.91 L609.73,366.25 L609.75,368.70 L609.77,371.25 L609.78,373.92 L609.80,376.68 L609.81,379.55 L609.83,382.52 L609.84,385.58 L609.86,388.73 L609.88,391.97 L609.89,395.29 L609.91,398.70 L609.92,402.18 L609.94,405.74 L609.95,409.37 L609.97,413.07 L609.98,416.84 L610.00,420.66 L610.02,424.55 L610.03,428.48 L610.05,432.47 L610.06,436.50 L610.08,440.57 L610.09,444.68 L610.11,448.82 L610.13,452.99 L610.14,457.19 L610.16,461.40 L610.17,465.64 L610.19,469.89 L610.20,474.14 L610.22,478.40 L610.23,482.66 L610.25,486.91 L610.27,491.16 L610.28,495.40 L610.30,499.61 L610.31,503.81 L610.33,507.98 L610.34,512.12 L610.36,516.23 L610.38,520.30 L610.39,524.33 L610.41,528.32 L610.42,532.25 L610.44,536.14 L610.45,539.96 L610.47,543.73 L610.49,547.43 L610.50,551.06 L610.52,554.62 L610.53,558.10 L610.55,561.51 L610.56,564.83 L610.58,568.07 L610.59,571.22 L610.61,574.28 L610.63,577.25 L610.64,580.12 L610.66,582.88 L610.67,585.55 L610.69,588.10 L610.70,590.55 L610.72,592.89 L610.74,595.12 L610.75,597.23 L610.77,599.22 L610.78,601.09 L610.80,602.85 L610.81,604.48 L610.83,605.98 L610.84,607.36 L610.86,608.62 L610.88,609.74 L610.89,610.73 L610.91,611.60 L610.92,612.33 L610.94,612.93 L610.95,613.40 L610.97,613.73 L610.99,613.93 L611.00,614.00 L611.02,613.93 L611.03,613.73 L611.05,613.40 L611.06,612.93 L611.08,612.33 L611.10,611.60 L611.11,610.73 L611.13,609.74 L611.14,608.62 L611.16,607.36 L611.17,605.98 L611.19,604.48 L611.20,602.85 L611.22,601.09 L611.24,599.22 L611.25,597.23 L611.27,595.12 L611.28,592.89 L611.30,590.55 L611.31,588.10 L611.33,585.55 L611.35,582.88 L611.36,580.12 L611.38,577.25 L611.39,574.28 L611.41,571.22 L611.42,568.07 L611.44,564.83 L611.45,561.51 L611.47,558.10 L611.49,554.62 L611.50,551.06 L611.52,547.43 L611.53,543.73 L611.55,539.96 L611.56,536.14 L611.58,532.25 L611.60,528.32 L611.61,524.33 L611.63,520.30 L611.64,516.23 L611.66,512.12 L611.67,507.98 L611.69,503.81 L611.71,499.61 L611.72,495.40 L611.74,491.16 L611.75,486.91 L611.77,482.66 L611.78,478.40 L611.80,474.14 L611.81,469.89 L611.83,465.64 L611.85,461.40 L611.86,457.19 L611.88,452.99 L611.89,448.82 L611.91,444.68 L611.92,440.57 L611.94,436.50 L611.96,432.47 L611.97,428.48 L611.99,424.55 L612.00,420.66 L612.02,416.84 L612.03,413.07 L612.05,409.37 L612.06,405.74 L612.08,402.18 L612.10,398.70 L612.11,395.29 L612.13,391.97 L612.14,388.73 L612.16,385.58 L612.17,382.52 L612.19,379.55 L612.21,376.68 L612.22,373.92 L612.24,371.25 L612.25,368.70 L612.27,366.25 L612.28,363.91 L612.30,361.68 L612.32,359.57 L612.33,357.58 L612.35,355.71 L612.36,353.95 L612.38,352.32 L612.39,350.82 L612.41,349.44 L612.42,348.18 L612.44,347.06 L612.46,346.07 L612.47,345.20 L612.49,344.47 L612.50,343.87 L612.52,343.40 L612.53,343.07 L612.55,342.87 L612.57,342.80 L612.58,342.87 L612.60,343.07 L612.61,343.40 L612.63,343.87 L612.64,344.47 L612.66,345.20 L612.67,346.07 L612.69,347.06 L612.71,348.18 L612.72,349.44 L612.74,350.82 L612.75,352.32 L612.77,353.95 L612.78,355.71 L612.80,357.58 L612.82,359.57 L612.83,361.68 L612.85,363.91 L612.86,366.25 L612.88,368.70 L612.89,371.25 L612.91,373.92 L612.93,376.68 L612.94,379.55 L612.96,382.52 L612.97,385.58 L612.99,388.73 L613.00,391.97 L613.02,395.29 L613.03,398.70 L613.05,402.18 L613.07,405.74 L613.08,409.37 L613.10,413.07 L613.11,416.84 L613.13,420.66 L613.14,424.55 L613.16,428.48 L613.18,432.47 L613.19,436.50 L613.21,440.57 L613.22,444.68 L613.24,448.82 L613.25,452.99 L613.27,457.19 L613.28,461.40 L613.30,465.64 L613.32,469.89 L613.33,474.14 L613.35,478.40 L613.36,482.66 L613.38,486.91 L613.39,491.16 L613.41,495.40 L613.43,499.61 L613.44,503.81 L613.46,507.98 L613.47,512.12 L613.49,516.23 L613.50,520.30 L613.52,524.33 L613.54,528.32 L613.55,532.25 L613.57,536.14 L613.58,539.96 L613.60,543.73 L613.61,547.43 L613.63,551.06 L613.64,554.62 L613.66,558.10 L613.68,561.51 L613.69,564.83 L613.71,568.07 L613.72,571.22 L613.74,574.28 L613.75,577.25 L613.77,580.12 L613.79,582.88 L613.80,585.55 L613.82,588.10 L613.83,590.55 L613.85,592.89 L613.86,595.12 L613.88,597.23 L613.89,599.22 L613.91,601.09 L613.93,602.85 L613.94,604.48 L613.96,605.98 L613.97,607.36 L613.99,608.62 L614.00,609.74 L614.02,610.73 L614.04,611.60 L614.05,612.33 L614.07,612.93 L614.08,613.40 L614.10,613.73 L614.11,613.93 L614.13,614.00 L614.15,613.93 L614.16,613.73 L614.18,613.40 L614.19,612.93 L614.21,612.33 L614.22,611.60 L614.24,610.73 L614.25,609.74 L614.27,608.62 L614.29,607.36 L614.30,605.98 L614.32,604.48 L614.33,602.85 L614.35,601.09 L614.36,599.22 L614.38,597.23 L614.40,595.12 L614.41,592.89 L614.43,590.55 L614.44,588.10 L614.46,585.55 L614.47,582.88 L614.49,580.12 L614.50,577.25 L614.52,574.28 L614.54,571.22 L614.55,568.07 L614.57,564.83 L614.58,561.51 L614.60,558.10 L614.61,554.62 L614.63,551.06 L614.65,547.43 L614.66,543.73 L614.68,539.96 L614.69,536.14 L614.71,532.25 L614.72,528.32 L614.74,524.33 L614.76,520.30 L614.77,516.23 L614.79,512.12 L614.80,507.98 L614.82,503.81 L614.83,499.61 L614.85,495.40 L614.86,491.16 L614.88,486.91 L614.90,482.66 L614.91,478.40 L614.93,474.14 L614.94,469.89 L614.96,465.64 L614.97,461.40 L614.99,457.19 L615.01,452.99 L615.02,448.82 L615.04,444.68 L615.05,440.57 L615.07,436.50 L615.08,432.47 L615.10,428.48 L615.12,424.55 L615.13,420.66 L615.15,416.84 L615.16,413.07 L615.18,409.37 L615.19,405.74 L615.21,402.18 L615.22,398.70 L615.24,395.29 L615.26,391.97 L615.27,388.73 L615.29,385.58 L615.30,382.52 L615.32,379.55 L615.33,376.68 L615.35,373.92 L615.37,371.25 L615.38,368.70 L615.40,366.25 L615.41,363.91 L615.43,361.68 L615.44,359.57 L615.46,357.58 L615.47,355.71 L615.49,353.95 L615.51,352.32 L615.52,350.82 L615.54,349.44 L615.55,348.18 L615.57,347.06 L615.58,346.07 L615.60,345.20 L615.62,344.47 L615.63,343.87 L615.65,343.40 L615.66,343.07 L615.68,342.87 L615.69,342.80 L615.71,342.87 L615.73,343.07 L615.74,343.40 L615.76,343.87 L615.77,344.47 L615.79,345.20 L615.80,346.07 L615.82,347.06 L615.83,348.18 L615.85,349.44 L615.87,350.82 L615.88,352.32 L615.90,353.95 L615.91,355.71 L615.93,357.58 L615.94,359.57 L615.96,361.68 L615.98,363.91 L615.99,366.25 L616.01,368.70 L616.02,371.25 L616.04,373.92 L616.05,376.68 L616.07,379.55 L616.08,382.52 L616.10,385.58 L616.12,388.73 L616.13,391.97 L616.15,395.29 L616.16,398.70 L616.18,402.18 L616.19,405.74 L616.21,409.37 L616.23,413.07 L616.24,416.84 L616.26,420.66 L616.27,424.55 L616.29,428.48 L616.30,432.47 L616.32,436.50 L616.34,440.57 L616.35,444.68 L616.37,448.82 L616.38,452.99 L616.40,457.19 L616.41,461.40 L616.43,465.64 L616.44,469.89 L616.46,474.14 L616.48,478.40 L616.49,482.66 L616.51,486.91 L616.52,491.16 L616.54,495.40 L616.55,499.61 L616.57,503.81 L616.59,507.98 L616.60,512.12 L616.62,516.23 L616.63,520.30 L616.65,524.33 L616.66,528.32 L616.68,532.25 L616.69,536.14 L616.71,539.96 L616.73,543.73 L616.74,547.43 L616.76,551.06 L616.77,554.62 L616.79,558.10 L616.80,561.51 L616.82,564.83 L616.84,568.07 L616.85,571.22 L616.87,574.28 L616.88,577.25 L616.90,580.12 L616.91,582.88 L616.93,585.55 L616.95,588.10 L616.96,590.55 L616.98,592.89 L616.99,595.12 L617.01,597.23 L617.02,599.22 L617.04,601.09 L617.05,602.85 L617.07,604.48 L617.09,605.98 L617.10,607.36 L617.12,608.62 L617.13,609.74 L617.15,610.73 L617.16,611.60 L617.18,612.33 L617.20,612.93 L617.21,613.40 L617.23,613.73 L617.24,613.93 L617.26,614.00 L617.27,613.93 L617.29,613.73 L617.30,613.40 L617.32,612.93 L617.34,612.33 L617.35,611.60 L617.37,610.73 L617.38,609.74 L617.40,608.62 L617.41,607.36 L617.43,605.98 L617.45,604.48 L617.46,602.85 L617.48,601.09 L617.49,599.22 L617.51,597.23 L617.52,595.12 L617.54,592.89 L617.56,590.55 L617.57,588.10 L617.59,585.55 L617.60,582.88 L617.62,580.12 L617.63,577.25 L617.65,574.28 L617.66,571.22 L617.68,568.07 L617.70,564.83 L617.71,561.51 L617.73,558.10 L617.74,554.62 L617.76,551.06 L617.77,547.43 L617.79,543.73 L617.81,539.96 L617.82,536.14 L617.84,532.25 L617.85,528.32 L617.87,524.33 L617.88,520.30 L617.90,516.23 L617.91,512.12 L617.93,507.98 L617.95,503.81 L617.96,499.61 L617.98,495.40 L617.99,491.16 L618.01,486.91 L618.02,482.66 L618.04,478.40 L618.06,474.14 L618.07,469.89 L618.09,465.64 L618.10,461.40 L618.12,457.19 L618.13,452.99 L618.15,448.82 L618.17,444.68 L618.18,440.57 L618.20,436.50 L618.21,432.47 L618.23,428.48 L618.24,424.55 L618.26,420.66 L618.27,416.84 L618.29,413.07 L618.31,409.37 L618.32,405.74 L618.34,402.18 L618.35,398.70 L618.37,395.29 L618.38,391.97 L618.40,388.73 L618.42,385.58 L618.43,382.52 L618.45,379.55 L618.46,376.68 L618.48,373.92 L618.49,371.25 L618.51,368.70 L618.52,366.25 L618.54,363.91 L618.56,361.68 L618.57,359.57 L618.59,357.58 L618.60,355.71 L618.62,353.95 L618.63,352.32 L618.65,350.82 L618.67,349.44 L618.68,348.18 L618.70,347.06 L618.71,346.07 L618.73,345.20 L618.74,344.47 L618.76,343.87 L618.78,343.40 L618.79,343.07 L618.81,342.87 L618.82,342.80 L618.84,342.87 L618.85,343.07 L618.87,343.40 L618.88,343.87 L618.90,344.47 L618.92,345.20 L618.93,346.07 L618.95,347.06 L618.96,348.18 L618.98,349.44 L618.99,350.82 L619.01,352.32 L619.03,353.95 L619.04,355.71 L619.06,357.58 L619.07,359.57 L619.09,361.68 L619.10,363.91 L619.12,366.25 L619.13,368.70 L619.15,371.25 L619.17,373.92 L619.18,376.68 L619.20,379.55 L619.21,382.52 L619.23,385.58 L619.24,388.73 L619.26,391.97 L619.28,395.29 L619.29,398.70 L619.31,402.18 L619.32,405.74 L619.34,409.37 L619.35,413.07 L619.37,416.84 L619.39,420.66 L619.40,424.55 L619.42,428.48 L619.43,432.47 L619.45,436.50 L619.46,440.57 L619.48,444.68 L619.49,448.82 L619.51,452.99 L619.53,457.19 L619.54,461.40 L619.56,465.64 L619.57,469.89 L619.59,474.14 L619.60,478.40 L619.62,482.66 L619.64,486.91 L619.65,491.16 L619.67,495.40 L619.68,499.61 L619.70,503.81 L619.71,507.98 L619.73,512.12 L619.74,516.23 L619.76,520.30 L619.78,524.33 L619.79,528.32 L619.81,532.25 L619.82,536.14 L619.84,539.96 L619.85,543.73 L619.87,547.43 L619.89,551.06 L619.90,554.62 L619.92,558.10 L619.93,561.51 L619.95,564.83 L619.96,568.07 L619.98,571.22 L620.00,574.28 L620.01,577.25 L620.03,580.12 L620.04,582.88 L620.06,585.55 L620.07,588.10 L620.09,590.55 L620.10,592.89 L620.12,595.12 L620.14,597.23 L620.15,599.22 L620.17,601.09 L620.18,602.85 L620.20,604.48 L620.21,605.98 L620.23,607.36 L620.25,608.62 L620.26,609.74 L620.28,610.73 L620.29,611.60 L620.31,612.33 L620.32,612.93 L620.34,613.40 L620.35,613.73 L620.37,613.93 L620.39,614.00 L620.40,613.93 L620.42,613.73 L620.43,613.40 L620.45,612.93 L620.46,612.33 L620.48,611.60 L620.50,610.73 L620.51,609.74 L620.53,608.62 L620.54,607.36 L620.56,605.98 L620.57,604.48 L620.59,602.85 L620.61,601.09 L620.62,599.22 L620.64,597.23 L620.65,595.12 L620.67,592.89 L620.68,590.55 L620.70,588.10 L620.71,585.55 L620.73,582.88 L620.75,580.12 L620.76,577.25 L620.78,574.28 L620.79,571.22 L620.81,568.07 L620.82,564.83 L620.84,561.51 L620.86,558.10 L620.87,554.62 L620.89,551.06 L620.90,547.43 L620.92,543.73 L620.93,539.96 L620.95,536.14 L620.96,532.25 L620.98,528.32 L621.00,524.33 L621.01,520.30 L621.03,516.23 L621.04,512.12 L621.06,507.98 L621.07,503.81 L621.09,499.61 L621.11,495.40 L621.12,491.16 L621.14,486.91 L621.15,482.66 L621.17,478.40 L621.18,474.14 L621.20,469.89 L621.22,465.64 L621.23,461.40 L621.25,457.19 L621.26,452.99 L621.28,448.82 L621.29,444.68 L621.31,440.57 L621.32,436.50 L621.34,432.47 L621.36,428.48 L621.37,424.55 L621.39,420.66 L621.40,416.84 L621.42,413.07 L621.43,409.37 L621.45,405.74 L621.47,402.18 L621.48,398.70 L621.50,395.29 L621.51,391.97 L621.53,388.73 L621.54,385.58 L621.56,382.52 L621.58,379.55 L621.59,376.68 L621.61,373.92 L621.62,371.25 L621.64,368.70 L621.65,366.25 L621.67,363.91 L621.68,361.68 L621.70,359.57 L621.72,357.58 L621.73,355.71 L621.75,353.95 L621.76,352.32 L621.78,350.82 L621.79,349.44 L621.81,348.18 L621.83,347.06 L621.84,346.07 L621.86,345.20 L621.87,344.47 L621.89,343.87 L621.90,343.40 L621.92,343.07 L621.93,342.87 L621.95,342.80 L621.97,342.87 L621.98,343.07 L622.00,343.40 L622.01,343.87 L622.03,344.47 L622.04,345.20 L622.06,346.07 L622.08,347.06 L622.09,348.18 L622.11,349.44 L622.12,350.82 L622.14,352.32 L622.15,353.95 L622.17,355.71 L622.19,357.58 L622.20,359.57 L622.22,361.68 L622.23,363.91 L622.25,366.25 L622.26,368.70 L622.28,371.25 L622.29,373.92 L622.31,376.68 L622.33,379.55 L622.34,382.52 L622.36,385.58 L622.37,388.73 L622.39,391.97 L622.40,395.29 L622.42,398.70 L622.44,402.18 L622.45,405.74 L622.47,409.37 L622.48,413.07 L622.50,416.84 L622.51,420.66 L622.53,424.55 L622.54,428.48 L622.56,432.47 L622.58,436.50 L622.59,440.57 L622.61,444.68 L622.62,448.82 L622.64,452.99 L622.65,457.19 L622.67,461.40 L622.69,465.64 L622.70,469.89 L622.72,474.14 L622.73,478.40 L622.75,482.66 L622.76,486.91 L622.78,491.16 L622.80,495.40 L622.81,499.61 L622.83,503.81 L622.84,507.98 L622.86,512.12 L622.87,516.23 L622.89,520.30 L622.90,524.33 L622.92,528.32 L622.94,532.25 L622.95,536.14 L622.97,539.96 L622.98,543.73 L623.00,547.43 L623.01,551.06 L623.03,554.62 L623.05,558.10 L623.06,561.51 L623.08,564.83 L623.09,568.07 L623.11,571.22 L623.12,574.28 L623.14,577.25 L623.15,580.12 L623.17,582.88 L623.19,585.55 L623.20,588.10 L623.22,590.55 L623.23,592.89 L623.25,595.12 L623.26,597.23 L623.28,599.22 L623.30,601.09 L623.31,602.85 L623.33,604.48 L623.34,605.98 L623.36,607.36 L623.37,608.62 L623.39,609.74 L623.41,610.73 L623.42,611.60 L623.44,612.33 L623.45,612.93 L623.47,613.40 L623.48,613.73 L623.50,613.93 L623.51,614.00 L623.53,613.93 L623.55,613.73 L623.56,613.40 L623.58,612.93 L623.59,612.33 L623.61,611.60 L623.62,610.73 L623.64,609.74 L623.66,608.62 L623.67,607.36 L623.69,605.98 L623.70,604.48 L623.72,602.85 L623.73,601.09 L623.75,599.22 L623.76,597.23 L623.78,595.12 L623.80,592.89 L623.81,590.55 L623.83,588.10 L623.84,585.55 L623.86,582.88 L623.87,580.12 L623.89,577.25 L623.91,574.28 L623.92,571.22 L623.94,568.07 L623.95,564.83 L623.97,561.51 L623.98,558.10 L624.00,554.62 L624.02,551.06 L624.03,547.43 L624.05,543.73 L624.06,539.96 L624.08,536.14 L624.09,532.25 L624.11,528.32 L624.12,524.33 L624.14,520.30 L624.16,516.23 L624.17,512.12 L624.19,507.98 L624.20,503.81 L624.22,499.61 L624.23,495.40 L624.25,491.16 L624.27,486.91 L624.28,482.66 L624.30,478.40 L624.31,474.14 L624.33,469.89 L624.34,465.64 L624.36,461.40 L624.37,457.19 L624.39,452.99 L624.41,448.82 L624.42,444.68 L624.44,440.57 L624.45,436.50 L624.47,432.47 L624.48,428.48 L624.50,424.55 L624.52,420.66 L624.53,416.84 L624.55,413.07 L624.56,409.37 L624.58,405.74 L624.59,402.18 L624.61,398.70 L624.63,395.29 L624.64,391.97 L624.66,388.73 L624.67,385.58 L624.69,382.52 L624.70,379.55 L624.72,376.68 L624.73,373.92 L624.75,371.25 L624.77,368.70 L624.78,366.25 L624.80,363.91 L624.81,361.68 L624.83,359.57 L624.84,357.58 L624.86,355.71 L624.88,353.95 L624.89,352.32 L624.91,350.82 L624.92,349.44 L624.94,348.18 L624.95,347.06 L624.97,346.07 L624.98,345.20 L625.00,344.47 L625.02,343.87 L625.03,343.40 L625.05,343.07 L625.06,342.87 L625.08,342.80 L625.09,342.87 L625.11,343.07 L625.13,343.40 L625.14,343.87 L625.16,344.47 L625.17,345.20 L625.19,346.07 L625.20,347.06 L625.22,348.18 L625.24,349.44 L625.25,350.82 L625.27,352.32 L625.28,353.95 L625.30,355.71 L625.31,357.58 L625.33,359.57 L625.34,361.68 L625.36,363.91 L625.38,366.25 L625.39,368.70 L625.41,371.25 L625.42,373.92 L625.44,376.68 L625.45,379.55 L625.47,382.52 L625.49,385.58 L625.50,388.73 L625.52,391.97 L625.53,395.29 L625.55,398.70 L625.56,402.18 L625.58,405.74 L625.59,409.37 L625.61,413.07 L625.63,416.84 L625.64,420.66 L625.66,424.55 L625.67,428.48 L625.69,432.47 L625.70,436.50 L625.72,440.57 L625.74,444.68 L625.75,448.82 L625.77,452.99 L625.78,457.19 L625.80,461.40 L625.81,465.64 L625.83,469.89 L625.85,474.14 L625.86,478.40 L625.88,482.66 L625.89,486.91 L625.91,491.16 L625.92,495.40 L625.94,499.61 L625.95,503.81 L625.97,507.98 L625.99,512.12 L626.00,516.23 L626.02,520.30 L626.03,524.33 L626.05,528.32 L626.06,532.25 L626.08,536.14 L626.10,539.96 L626.11,543.73 L626.13,547.43 L626.14,551.06 L626.16,554.62 L626.17,558.10 L626.19,561.51 L626.20,564.83 L626.22,568.07 L626.24,571.22 L626.25,574.28 L626.27,577.25 L626.28,580.12 L626.30,582.88 L626.31,585.55 L626.33,588.10 L626.35,590.55 L626.36,592.89 L626.38,595.12 L626.39,597.23 L626.41,599.22 L626.42,601.09 L626.44,602.85 L626.46,604.48 L626.47,605.98 L626.49,607.36 L626.50,608.62 L626.52,609.74 L626.53,610.73 L626.55,611.60 L626.56,612.33 L626.58,612.93 L626.60,613.40 L626.61,613.73 L626.63,613.93 L626.64,614.00 L626.66,613.93 L626.67,613.73 L626.69,613.40 L626.71,612.93 L626.72,612.33 L626.74,611.60 L626.75,610.73 L626.77,609.74 L626.78,608.62 L626.80,607.36 L626.81,605.98 L626.83,604.48 L626.85,602.85 L626.86,601.09 L626.88,599.22 L626.89,597.23 L626.91,595.12 L626.92,592.89 L626.94,590.55 L626.96,588.10 L626.97,585.55 L626.99,582.88 L627.00,580.12 L627.02,577.25 L627.03,574.28 L627.05,571.22 L627.07,568.07 L627.08,564.83 L627.10,561.51 L627.11,558.10 L627.13,554.62 L627.14,551.06 L627.16,547.43 L627.17,543.73 L627.19,539.96 L627.21,536.14 L627.22,532.25 L627.24,528.32 L627.25,524.33 L627.27,520.30 L627.28,516.23 L627.30,512.12 L627.32,507.98 L627.33,503.81 L627.35,499.61 L627.36,495.40 L627.38,491.16 L627.39,486.91 L627.41,482.66 L627.42,478.40 L627.44,474.14 L627.46,469.89 L627.47,465.64 L627.49,461.40 L627.50,457.19 L627.52,452.99 L627.53,448.82 L627.55,444.68 L627.57,440.57 L627.58,436.50 L627.60,432.47 L627.61,428.48 L627.63,424.55 L627.64,420.66 L627.66,416.84 L627.68,413.07 L627.69,409.37 L627.71,405.74 L627.72,402.18 L627.74,398.70 L627.75,395.29 L627.77,391.97 L627.78,388.73 L627.80,385.58 L627.82,382.52 L627.83,379.55 L627.85,376.68 L627.86,373.92 L627.88,371.25 L627.89,368.70 L627.91,366.25 L627.93,363.91 L627.94,361.68 L627.96,359.57 L627.97,357.58 L627.99,355.71 L628.00,353.95 L628.02,352.32 L628.04,350.82 L628.05,349.44 L628.07,348.18 L628.08,347.06 L628.10,346.07 L628.11,345.20 L628.13,344.47 L628.14,343.87 L628.16,343.40 L628.18,343.07 L628.19,342.87 L628.21,342.80 L628.22,342.87 L628.24,343.07 L628.25,343.40 L628.27,343.87 L628.29,344.47 L628.30,345.20 L628.32,346.07 L628.33,347.06 L628.35,348.18 L628.36,349.44 L628.38,350.82 L628.39,352.32 L628.41,353.95 L628.43,355.71 L628.44,357.58 L628.46,359.57 L628.47,361.68 L628.49,363.91 L628.50,366.25 L628.52,368.70 L628.54,371.25 L628.55,373.92 L628.57,376.68 L628.58,379.55 L628.60,382.52 L628.61,385.58 L628.63,388.73 L628.65,391.97 L628.66,395.29 L628.68,398.70 L628.69,402.18 L628.71,405.74 L628.72,409.37 L628.74,413.07 L628.75,416.84 L628.77,420.66 L628.79,424.55 L628.80,428.48 L628.82,432.47 L628.83,436.50 L628.85,440.57 L628.86,444.68 L628.88,448.82 L628.90,452.99 L628.91,457.19 L628.93,461.40 L628.94,465.64 L628.96,469.89 L628.97,474.14 L628.99,478.40 L629.00,482.66 L629.02,486.91 L629.04,491.16 L629.05,495.40 L629.07,499.61 L629.08,503.81 L629.10,507.98 L629.11,512.12 L629.13,516.23 L629.15,520.30 L629.16,524.33 L629.18,528.32 L629.19,532.25 L629.21,536.14 L629.22,539.96 L629.24,543.73 L629.26,547.43 L629.27,551.06 L629.29,554.62 L629.30,558.10 L629.32,561.51 L629.33,564.83 L629.35,568.07 L629.36,571.22 L629.38,574.28 L629.40,577.25 L629.41,580.12 L629.43,582.88 L629.44,585.55 L629.46,588.10 L629.47,590.55 L629.49,592.89 L629.51,595.12 L629.52,597.23 L629.54,599.22 L629.55,601.09 L629.57,602.85 L629.58,604.48 L629.60,605.98 L629.61,607.36 L629.63,608.62 L629.65,609.74 L629.66,610.73 L629.68,611.60 L629.69,612.33 L629.71,612.93 L629.72,613.40 L629.74,613.73 L629.76,613.93 L629.77,614.00 L629.79,613.93 L629.80,613.73 L629.82,613.40 L629.83,612.93 L629.85,612.33 L629.87,611.60 L629.88,610.73 L629.90,609.74 L629.91,608.62 L629.93,607.36 L629.94,605.98 L629.96,604.48 L629.97,602.85 L629.99,601.09 L630.01,599.22 L630.02,597.23 L630.04,595.12 L630.05,592.89 L630.07,590.55 L630.08,588.10 L630.10,585.55 L630.12,582.88 L630.13,580.12 L630.15,577.25 L630.16,574.28 L630.18,571.22 L630.19,568.07 L630.21,564.83 L630.22,561.51 L630.24,558.10 L630.26,554.62 L630.27,551.06 L630.29,547.43 L630.30,543.73 L630.32,539.96 L630.33,536.14 L630.35,532.25 L630.37,528.32 L630.38,524.33 L630.40,520.30 L630.41,516.23 L630.43,512.12 L630.44,507.98 L630.46,503.81 L630.48,499.61 L630.49,495.40 L630.51,491.16 L630.52,486.91 L630.54,482.66 L630.55,478.40 L630.57,474.14 L630.58,469.89 L630.60,465.64 L630.62,461.40 L630.63,457.19 L630.65,452.99 L630.66,448.82 L630.68,444.68 L630.69,440.57 L630.71,436.50 L630.73,432.47 L630.74,428.48 L630.76,424.55 L630.77,420.66 L630.79,416.84 L630.80,413.07 L630.82,409.37 L630.83,405.74 L630.85,402.18 L630.87,398.70 L630.88,395.29 L630.90,391.97 L630.91,388.73 L630.93,385.58 L630.94,382.52 L630.96,379.55 L630.98,376.68 L630.99,373.92 L631.01,371.25 L631.02,368.70 L631.04,366.25 L631.05,363.91 L631.07,361.68 L631.09,359.57 L631.10,357.58 L631.12,355.71 L631.13,353.95 L631.15,352.32 L631.16,350.82 L631.18,349.44 L631.19,348.18 L631.21,347.06 L631.23,346.07 L631.24,345.20 L631.26,344.47 L631.27,343.87 L631.29,343.40 L631.30,343.07 L631.32,342.87 L631.34,342.80 L631.35,342.87 L631.37,343.07 L631.38,343.40 L631.40,343.87 L631.41,344.47 L631.43,345.20 L631.44,346.07 L631.46,347.06 L631.48,348.18 L631.49,349.44 L631.51,350.82 L631.52,352.32 L631.54,353.95 L631.55,355.71 L631.57,357.58 L631.59,359.57 L631.60,361.68 L631.62,363.91 L631.63,366.25 L631.65,368.70 L631.66,371.25 L631.68,373.92 L631.70,376.68 L631.71,379.55 L631.73,382.52 L631.74,385.58 L631.76,388.73 L631.77,391.97 L631.79,395.29 L631.80,398.70 L631.82,402.18 L631.84,405.74 L631.85,409.37 L631.87,413.07 L631.88,416.84 L631.90,420.66 L631.91,424.55 L631.93,428.48 L631.95,432.47 L631.96,436.50 L631.98,440.57 L631.99,444.68 L632.01,448.82 L632.02,452.99 L632.04,457.19 L632.05,461.40 L632.07,465.64 L632.09,469.89 L632.10,474.14 L632.12,478.40 L632.13,482.66 L632.15,486.91 L632.16,491.16 L632.18,495.40 L632.20,499.61 L632.21,503.81 L632.23,507.98 L632.24,512.12 L632.26,516.23 L632.27,520.30 L632.29,524.33 L632.31,528.32 L632.32,532.25 L632.34,536.14 L632.35,539.96 L632.37,543.73 L632.38,547.43 L632.40,551.06 L632.41,554.62 L632.43,558.10 L632.45,561.51 L632.46,564.83 L632.48,568.07 L632.49,571.22 L632.51,574.28 L632.52,577.25 L632.54,580.12 L632.56,582.88 L632.57,585.55 L632.59,588.10 L632.60,590.55 L632.62,592.89 L632.63,595.12 L632.65,597.23 L632.66,599.22 L632.68,601.09 L632.70,602.85 L632.71,604.48 L632.73,605.98 L632.74,607.36 L632.76,608.62 L632.77,609.74 L632.79,610.73 L632.81,611.60 L632.82,612.33 L632.84,612.93 L632.85,613.40 L632.87,613.73 L632.88,613.93 L632.90,614.00 L632.92,613.93 L632.93,613.73 L632.95,613.40 L632.96,612.93 L632.98,612.33 L632.99,611.60 L633.01,610.73 L633.02,609.74 L633.04,608.62 L633.06,607.36 L633.07,605.98 L633.09,604.48 L633.10,602.85 L633.12,601.09 L633.13,599.22 L633.15,597.23 L633.17,595.12 L633.18,592.89 L633.20,590.55 L633.21,588.10 L633.23,585.55 L633.24,582.88 L633.26,580.12 L633.27,577.25 L633.29,574.28 L633.31,571.22 L633.32,568.07 L633.34,564.83 L633.35,561.51 L633.37,558.10 L633.38,554.62 L633.40,551.06 L633.42,547.43 L633.43,543.73 L633.45,539.96 L633.46,536.14 L633.48,532.25 L633.49,528.32 L633.51,524.33 L633.53,520.30 L633.54,516.23 L633.56,512.12 L633.57,507.98 L633.59,503.81 L633.60,499.61 L633.62,495.40 L633.63,491.16 L633.65,486.91 L633.67,482.66 L633.68,478.40 L633.70,474.14 L633.71,469.89 L633.73,465.64 L633.74,461.40 L633.76,457.19 L633.78,452.99 L633.79,448.82 L633.81,444.68 L633.82,440.57 L633.84,436.50 L633.85,432.47 L633.87,428.48 L633.89,424.55 L633.90,420.66 L633.92,416.84 L633.93,413.07 L633.95,409.37 L633.96,405.74 L633.98,402.18 L633.99,398.70 L634.01,395.29 L634.03,391.97 L634.04,388.73 L634.06,385.58 L634.07,382.52 L634.09,379.55 L634.10,376.68 L634.12,373.92 L634.14,371.25 L634.15,368.70 L634.17,366.25 L634.18,363.91 L634.20,361.68 L634.21,359.57 L634.23,357.58 L634.24,355.71 L634.26,353.95 L634.28,352.32 L634.29,350.82 L634.31,349.44 L634.32,348.18 L634.34,347.06 L634.35,346.07 L634.37,345.20 L634.39,344.47 L634.40,343.87 L634.42,343.40 L634.43,343.07 L634.45,342.87 L634.46,342.80 L634.48,342.87 L634.50,343.07 L634.51,343.40 L634.53,343.87 L634.54,344.47 L634.56,345.20 L634.57,346.07 L634.59,347.06 L634.60,348.18 L634.62,349.44 L634.64,350.82 L634.65,352.32 L634.67,353.95 L634.68,355.71 L634.70,357.58 L634.71,359.57 L634.73,361.68 L634.75,363.91 L634.76,366.25 L634.78,368.70 L634.79,371.25 L634.81,373.92 L634.82,376.68 L634.84,379.55 L634.85,382.52 L634.87,385.58 L634.89,388.73 L634.90,391.97 L634.92,395.29 L634.93,398.70 L634.95,402.18 L634.96,405.74 L634.98,409.37 L635.00,413.07 L635.01,416.84 L635.03,420.66 L635.04,424.55 L635.06,428.48 L635.07,432.47 L635.09,436.50 L635.11,440.57 L635.12,444.68 L635.14,448.82 L635.15,452.99 L635.17,457.19 L635.18,461.40 L635.20,465.64 L635.21,469.89 L635.23,474.14 L635.25,478.40 L635.26,482.66 L635.28,486.91 L635.29,491.16 L635.31,495.40 L635.32,499.61 L635.34,503.81 L635.36,507.98 L635.37,512.12 L635.39,516.23 L635.40,520.30 L635.42,524.33 L635.43,528.32 L635.45,532.25 L635.46,536.14 L635.48,539.96 L635.50,543.73 L635.51,547.43 L635.53,551.06 L635.54,554.62 L635.56,558.10 L635.57,561.51 L635.59,564.83 L635.61,568.07 L635.62,571.22 L635.64,574.28 L635.65,577.25 L635.67,580.12 L635.68,582.88 L635.70,585.55 L635.72,588.10 L635.73,590.55 L635.75,592.89 L635.76,595.12 L635.78,597.23 L635.79,599.22 L635.81,601.09 L635.82,602.85 L635.84,604.48 L635.86,605.98 L635.87,607.36 L635.89,608.62 L635.90,609.74 L635.92,610.73 L635.93,611.60 L635.95,612.33 L635.97,612.93 L635.98,613.40 L636.00,613.73 L636.01,613.93 L636.03,614.00 L636.04,613.93 L636.06,613.73 L636.07,613.40 L636.09,612.93 L636.11,612.33 L636.12,611.60 L636.14,610.73 L636.15,609.74 L636.17,608.62 L636.18,607.36 L636.20,605.98 L636.22,604.48 L636.23,602.85 L636.25,601.09 L636.26,599.22 L636.28,597.23 L636.29,595.12 L636.31,592.89 L636.33,590.55 L636.34,588.10 L636.36,585.55 L636.37,582.88 L636.39,580.12 L636.40,577.25 L636.42,574.28 L636.43,571.22 L636.45,568.07 L636.47,564.83 L636.48,561.51 L636.50,558.10 L636.51,554.62 L636.53,551.06 L636.54,547.43 L636.56,543.73 L636.58,539.96 L636.59,536.14 L636.61,532.25 L636.62,528.32 L636.64,524.33 L636.65,520.30 L636.67,516.23 L636.68,512.12 L636.70,507.98 L636.72,503.81 L636.73,499.61 L636.75,495.40 L636.76,491.16 L636.78,486.91 L636.79,482.66 L636.81,478.40 L636.83,474.14 L636.84,469.89 L636.86,465.64 L636.87,461.40 L636.89,457.19 L636.90,452.99 L636.92,448.82 L636.94,444.68 L636.95,440.57 L636.97,436.50 L636.98,432.47 L637.00,428.48 L637.01,424.55 L637.03,420.66 L637.04,416.84 L637.06,413.07 L637.08,409.37 L637.09,405.74 L637.11,402.18 L637.12,398.70 L637.14,395.29 L637.15,391.97 L637.17,388.73 L637.19,385.58 L637.20,382.52 L637.22,379.55 L637.23,376.68 L637.25,373.92 L637.26,371.25 L637.28,368.70 L637.29,366.25 L637.31,363.91 L637.33,361.68 L637.34,359.57 L637.36,357.58 L637.37,355.71 L637.39,353.95 L637.40,352.32 L637.42,350.82 L637.44,349.44 L637.45,348.18 L637.47,347.06 L637.48,346.07 L637.50,345.20 L637.51,344.47 L637.53,343.87 L637.55,343.40 L637.56,343.07 L637.58,342.87 L637.59,342.80 L637.61,342.87 L637.62,343.07 L637.64,343.40 L637.65,343.87 L637.67,344.47 L637.69,345.20 L637.70,346.07 L637.72,347.06 L637.73,348.18 L637.75,349.44 L637.76,350.82 L637.78,352.32 L637.80,353.95 L637.81,355.71 L637.83,357.58 L637.84,359.57 L637.86,361.68 L637.87,363.91 L637.89,366.25 L637.90,368.70 L637.92,371.25 L637.94,373.92 L637.95,376.68 L637.97,379.55 L637.98,382.52 L638.00,385.58 L638.01,388.73 L638.03,391.97 L638.05,395.29 L638.06,398.70 L638.08,402.18 L638.09,405.74 L638.11,409.37 L638.12,413.07 L638.14,416.84 L638.16,420.66 L638.17,424.55 L638.19,428.48 L638.20,432.47 L638.22,436.50 L638.23,440.57 L638.25,444.68 L638.26,448.82 L638.28,452.99 L638.30,457.19 L638.31,461.40 L638.33,465.64 L638.34,469.89 L638.36,474.14 L638.37,478.40 L638.39,482.66 L638.41,486.91 L638.42,491.16 L638.44,495.40 L638.45,499.61 L638.47,503.81 L638.48,507.98 L638.50,512.12 L638.51,516.23 L638.53,520.30 L638.55,524.33 L638.56,528.32 L638.58,532.25 L638.59,536.14 L638.61,539.96 L638.62,543.73 L638.64,547.43 L638.66,551.06 L638.67,554.62 L638.69,558.10 L638.70,561.51 L638.72,564.83 L638.73,568.07 L638.75,571.22 L638.77,574.28 L638.78,577.25 L638.80,580.12 L638.81,582.88 L638.83,585.55 L638.84,588.10 L638.86,590.55 L638.87,592.89 L638.89,595.12 L638.91,597.23 L638.92,599.22 L638.94,601.09 L638.95,602.85 L638.97,604.48 L638.98,605.98 L639.00,607.36 L639.02,608.62 L639.03,609.74 L639.05,610.73 L639.06,611.60 L639.08,612.33 L639.09,612.93 L639.11,613.40 L639.12,613.73 L639.14,613.93 L639.16,614.00 L639.17,613.93 L639.19,613.73 L639.20,613.40 L639.22,612.93 L639.23,612.33 L639.25,611.60 L639.27,610.73 L639.28,609.74 L639.30,608.62 L639.31,607.36 L639.33,605.98 L639.34,604.48 L639.36,602.85 L639.38,601.09 L639.39,599.22 L639.41,597.23 L639.42,595.12 L639.44,592.89 L639.45,590.55 L639.47,588.10 L639.48,585.55 L639.50,582.88 L639.52,580.12 L639.53,577.25 L639.55,574.28 L639.56,571.22 L639.58,568.07 L639.59,564.83 L639.61,561.51 L639.63,558.10 L639.64,554.62 L639.66,551.06 L639.67,547.43 L639.69,543.73 L639.70,539.96 L639.72,536.14 L639.73,532.25 L639.75,528.32 L639.77,524.33 L639.78,520.30 L639.80,516.23 L639.81,512.12 L639.83,507.98 L639.84,503.81 L639.86,499.61 L639.88,495.40 L639.89,491.16 L639.91,486.91 L639.92,482.66 L639.94,478.40 L639.95,474.14 L639.97,469.89 L639.99,465.64 L640.00,461.40 L640.02,457.19 L640.03,452.99 L640.05,448.82 L640.06,444.68 L640.08,440.57 L640.09,436.50 L640.11,432.47 L640.13,428.48 L640.14,424.55 L640.16,420.66 L640.17,416.84 L640.19,413.07 L640.20,409.37 L640.22,405.74 L640.24,402.18 L640.25,398.70 L640.27,395.29 L640.28,391.97 L640.30,388.73 L640.31,385.58 L640.33,382.52 L640.35,379.55 L640.36,376.68 L640.38,373.92 L640.39,371.25 L640.41,368.70 L640.42,366.25 L640.44,363.91 L640.45,361.68 L640.47,359.57 L640.49,357.58 L640.50,355.71 L640.52,353.95 L640.53,352.32 L640.55,350.82 L640.56,349.44 L640.58,348.18 L640.60,347.06 L640.61,346.07 L640.63,345.20 L640.64,344.47 L640.66,343.87 L640.67,343.40 L640.69,343.07 L640.70,342.87 L640.72,342.80 L640.74,342.87 L640.75,343.07 L640.77,343.40 L640.78,343.87 L640.80,344.47 L640.81,345.20 L640.83,346.07 L640.85,347.06 L640.86,348.18 L640.88,349.44 L640.89,350.82 L640.91,352.32 L640.92,353.95 L640.94,355.71 L640.96,357.58 L640.97,359.57 L640.99,361.68 L641.00,363.91 L641.02,366.25 L641.03,368.70 L641.05,371.25 L641.06,373.92 L641.08,376.68 L641.10,379.55 L641.11,382.52 L641.13,385.58 L641.14,388.73 L641.16,391.97 L641.17,395.29 L641.19,398.70 L641.21,402.18 L641.22,405.74 L641.24,409.37 L641.25,413.07 L641.27,416.84 L641.28,420.66 L641.30,424.55 L641.31,428.48 L641.33,432.47 L641.35,436.50 L641.36,440.57 L641.38,444.68 L641.39,448.82 L641.41,452.99 L641.42,457.19 L641.44,461.40 L641.46,465.64 L641.47,469.89 L641.49,474.14 L641.50,478.40 L641.52,482.66 L641.53,486.91 L641.55,491.16 L641.57,495.40 L641.58,499.61 L641.60,503.81 L641.61,507.98 L641.63,512.12 L641.64,516.23 L641.66,520.30 L641.67,524.33 L641.69,528.32 L641.71,532.25 L641.72,536.14 L641.74,539.96 L641.75,543.73 L641.77,547.43 L641.78,551.06 L641.80,554.62 L641.82,558.10 L641.83,561.51 L641.85,564.83 L641.86,568.07 L641.88,571.22 L641.89,574.28 L641.91,577.25 L641.92,580.12 L641.94,582.88 L641.96,585.55 L641.97,588.10 L641.99,590.55 L642.00,592.89 L642.02,595.12 L642.03,597.23 L642.05,599.22 L642.07,601.09 L642.08,602.85 L642.10,604.48 L642.11,605.98 L642.13,607.36 L642.14,608.62 L642.16,609.74 L642.18,610.73 L642.19,611.60 L642.21,612.33 L642.22,612.93 L642.24,613.40 L642.25,613.73 L642.27,613.93 L642.28,614.00 L642.30,613.93 L642.32,613.73 L642.33,613.40 L642.35,612.93 L642.36,612.33 L642.38,611.60 L642.39,610.73 L642.41,609.74 L642.43,608.62 L642.44,607.36 L642.46,605.98 L642.47,604.48 L642.49,602.85 L642.50,601.09 L642.52,599.22 L642.53,597.23 L642.55,595.12 L642.57,592.89 L642.58,590.55 L642.60,588.10 L642.61,585.55 L642.63,582.88 L642.64,580.12 L642.66,577.25 L642.68,574.28 L642.69,571.22 L642.71,568.07 L642.72,564.83 L642.74,561.51 L642.75,558.10 L642.77,554.62 L642.79,551.06 L642.80,547.43 L642.82,543.73 L642.83,539.96 L642.85,536.14 L642.86,532.25 L642.88,528.32 L642.89,524.33 L642.91,520.30 L642.93,516.23 L642.94,512.12 L642.96,507.98 L642.97,503.81 L642.99,499.61 L643.00,495.40 L643.02,491.16 L643.04,486.91 L643.05,482.66 L643.07,478.40 L643.08,474.14 L643.10,469.89 L643.11,465.64 L643.13,461.40 L643.14,457.19 L643.16,452.99 L643.18,448.82 L643.19,444.68 L643.21,440.57 L643.22,436.50 L643.24,432.47 L643.25,428.48 L643.27,424.55 L643.29,420.66 L643.30,416.84 L643.32,413.07 L643.33,409.37 L643.35,405.74 L643.36,402.18 L643.38,398.70 L643.40,395.29 L643.41,391.97 L643.43,388.73 L643.44,385.58 L643.46,382.52 L643.47,379.55 L643.49,376.68 L643.50,373.92 L643.52,371.25 L643.54,368.70 L643.55,366.25 L643.57,363.91 L643.58,361.68 L643.60,359.57 L643.61,357.58 L643.63,355.71 L643.65,353.95 L643.66,352.32 L643.68,350.82 L643.69,349.44 L643.71,348.18 L643.72,347.06 L643.74,346.07 L643.75,345.20 L643.77,344.47 L643.79,343.87 L643.80,343.40 L643.82,343.07 L643.83,342.87 L643.85,342.80 L643.86,342.87 L643.88,343.07 L643.90,343.40 L643.91,343.87 L643.93,344.47 L643.94,345.20 L643.96,346.07 L643.97,347.06 L643.99,348.18 L644.01,349.44 L644.02,350.82 L644.04,352.32 L644.05,353.95 L644.07,355.71 L644.08,357.58 L644.10,359.57 L644.11,361.68 L644.13,363.91 L644.15,366.25 L644.16,368.70 L644.18,371.25 L644.19,373.92 L644.21,376.68 L644.22,379.55 L644.24,382.52 L644.26,385.58 L644.27,388.73 L644.29,391.97 L644.30,395.29 L644.32,398.70 L644.33,402.18 L644.35,405.74 L644.36,409.37 L644.38,413.07 L644.40,416.84 L644.41,420.66 L644.43,424.55 L644.44,428.48 L644.46,432.47 L644.47,436.50 L644.49,440.57 L644.51,444.68 L644.52,448.82 L644.54,452.99 L644.55,457.19 L644.57,461.40 L644.58,465.64 L644.60,469.89 L644.62,474.14 L644.63,478.40 L644.65,482.66 L644.66,486.91 L644.68,491.16 L644.69,495.40 L644.71,499.61 L644.72,503.81 L644.74,507.98 L644.76,512.12 L644.77,516.23 L644.79,520.30 L644.80,524.33 L644.82,528.32 L644.83,532.25 L644.85,536.14 L644.87,539.96 L644.88,543.73 L644.90,547.43 L644.91,551.06 L644.93,554.62 L644.94,558.10 L644.96,561.51 L644.97,564.83 L644.99,568.07 L645.01,571.22 L645.02,574.28 L645.04,577.25 L645.05,580.12 L645.07,582.88 L645.08,585.55 L645.10,588.10 L645.12,590.55 L645.13,592.89 L645.15,595.12 L645.16,597.23 L645.18,599.22 L645.19,601.09 L645.21,602.85 L645.23,604.48 L645.24,605.98 L645.26,607.36 L645.27,608.62 L645.29,609.74 L645.30,610.73 L645.32,611.60 L645.33,612.33 L645.35,612.93 L645.37,613.40 L645.38,613.73 L645.40,613.93 L645.41,614.00 L645.43,613.93 L645.44,613.73 L645.46,613.40 L645.48,612.93 L645.49,612.33 L645.51,611.60 L645.52,610.73 L645.54,609.74 L645.55,608.62 L645.57,607.36 L645.58,605.98 L645.60,604.48 L645.62,602.85 L645.63,601.09 L645.65,599.22 L645.66,597.23 L645.68,595.12 L645.69,592.89 L645.71,590.55 L645.73,588.10 L645.74,585.55 L645.76,582.88 L645.77,580.12 L645.79,577.25 L645.80,574.28 L645.82,571.22 L645.84,568.07 L645.85,564.83 L645.87,561.51 L645.88,558.10 L645.90,554.62 L645.91,551.06 L645.93,547.43 L645.94,543.73 L645.96,539.96 L645.98,536.14 L645.99,532.25 L646.01,528.32 L646.02,524.33 L646.04,520.30 L646.05,516.23 L646.07,512.12 L646.09,507.98 L646.10,503.81 L646.12,499.61 L646.13,495.40 L646.15,491.16 L646.16,486.91 L646.18,482.66 L646.19,478.40 L646.21,474.14 L646.23,469.89 L646.24,465.64 L646.26,461.40 L646.27,457.19 L646.29,452.99 L646.30,448.82 L646.32,444.68 L646.34,440.57 L646.35,436.50 L646.37,432.47 L646.38,428.48 L646.40,424.55 L646.41,420.66 L646.43,416.84 L646.45,413.07 L646.46,409.37 L646.48,405.74 L646.49,402.18 L646.51,398.70 L646.52,395.29 L646.54,391.97 L646.55,388.73 L646.57,385.58 L646.59,382.52 L646.60,379.55 L646.62,376.68 L646.63,373.92 L646.65,371.25 L646.66,368.70 L646.68,366.25 L646.70,363.91 L646.71,361.68 L646.73,359.57 L646.74,357.58 L646.76,355.71 L646.77,353.95 L646.79,352.32 L646.81,350.82 L646.82,349.44 L646.84,348.18 L646.85,347.06 L646.87,346.07 L646.88,345.20 L646.90,344.47 L646.91,343.87 L646.93,343.40 L646.95,343.07 L646.96,342.87 L646.98,342.80 L646.99,342.87 L647.01,343.07 L647.02,343.40 L647.04,343.87 L647.06,344.47 L647.07,345.20 L647.09,346.07 L647.10,347.06 L647.12,348.18 L647.13,349.44 L647.15,350.82 L647.16,352.32 L647.18,353.95 L647.20,355.71 L647.21,357.58 L647.23,359.57 L647.24,361.68 L647.26,363.91 L647.27,366.25 L647.29,368.70 L647.31,371.25 L647.32,373.92 L647.34,376.68 L647.35,379.55 L647.37,382.52 L647.38,385.58 L647.40,388.73 L647.42,391.97 L647.43,395.29 L647.45,398.70 L647.46,402.18 L647.48,405.74 L647.49,409.37 L647.51,413.07 L647.52,416.84 L647.54,420.66 L647.56,424.55 L647.57,428.48 L647.59,432.47 L647.60,436.50 L647.62,440.57 L647.63,444.68 L647.65,448.82 L647.67,452.99 L647.68,457.19 L647.70,461.40 L647.71,465.64 L647.73,469.89 L647.74,474.14 L647.76,478.40 L647.77,482.66 L647.79,486.91 L647.81,491.16 L647.82,495.40 L647.84,499.61 L647.85,503.81 L647.87,507.98 L647.88,512.12 L647.90,516.23 L647.92,520.30 L647.93,524.33 L647.95,528.32 L647.96,532.25 L647.98,536.14 L647.99,539.96 L648.01,543.73 L648.03,547.43 L648.04,551.06 L648.06,554.62 L648.07,558.10 L648.09,561.51 L648.10,564.83 L648.12,568.07 L648.13,571.22 L648.15,574.28 L648.17,577.25 L648.18,580.12 L648.20,582.88 L648.21,585.55 L648.23,588.10 L648.24,590.55 L648.26,592.89 L648.28,595.12 L648.29,597.23 L648.31,599.22 L648.32,601.09 L648.34,602.85 L648.35,604.48 L648.37,605.98 L648.38,607.36 L648.40,608.62 L648.42,609.74 L648.43,610.73 L648.45,611.60 L648.46,612.33 L648.48,612.93 L648.49,613.40 L648.51,613.73 L648.53,613.93 L648.54,614.00 L648.56,613.93 L648.57,613.73 L648.59,613.40 L648.60,612.93 L648.62,612.33 L648.64,611.60 L648.65,610.73 L648.67,609.74 L648.68,608.62 L648.70,607.36 L648.71,605.98 L648.73,604.48 L648.74,602.85 L648.76,601.09 L648.78,599.22 L648.79,597.23 L648.81,595.12 L648.82,592.89 L648.84,590.55 L648.85,588.10 L648.87,585.55 L648.89,582.88 L648.90,580.12 L648.92,577.25 L648.93,574.28 L648.95,571.22 L648.96,568.07 L648.98,564.83 L648.99,561.51 L649.01,558.10 L649.03,554.62 L649.04,551.06 L649.06,547.43 L649.07,543.73 L649.09,539.96 L649.10,536.14 L649.12,532.25 L649.14,528.32 L649.15,524.33 L649.17,520.30 L649.18,516.23 L649.20,512.12 L649.21,507.98 L649.23,503.81 L649.25,499.61 L649.26,495.40 L649.28,491.16 L649.29,486.91 L649.31,482.66 L649.32,478.40 L649.34,474.14 L649.35,469.89 L649.37,465.64 L649.39,461.40 L649.40,457.19 L649.42,452.99 L649.43,448.82 L649.45,444.68 L649.46,440.57 L649.48,436.50 L649.50,432.47 L649.51,428.48 L649.53,424.55 L649.54,420.66 L649.56,416.84 L649.57,413.07 L649.59,409.37 L649.60,405.74 L649.62,402.18 L649.64,398.70 L649.65,395.29 L649.67,391.97 L649.68,388.73 L649.70,385.58 L649.71,382.52 L649.73,379.55 L649.75,376.68 L649.76,373.92 L649.78,371.25 L649.79,368.70 L649.81,366.25 L649.82,363.91 L649.84,361.68 L649.86,359.57 L649.87,357.58 L649.89,355.71 L649.90,353.95 L649.92,352.32 L649.93,350.82 L649.95,349.44 L649.96,348.18 L649.98,347.06 L650.00,346.07 L650.01,345.20 L650.03,344.47 L650.04,343.87 L650.06,343.40 L650.07,343.07 L650.09,342.87 L650.11,342.80 L650.12,342.87 L650.14,343.07 L650.15,343.40 L650.17,343.87 L650.18,344.47 L650.20,345.20 L650.21,346.07 L650.23,347.06 L650.25,348.18 L650.26,349.44 L650.28,350.82 L650.29,352.32 L650.31,353.95 L650.32,355.71 L650.34,357.58 L650.36,359.57 L650.37,361.68 L650.39,363.91 L650.40,366.25 L650.42,368.70 L650.43,371.25 L650.45,373.92 L650.47,376.68 L650.48,379.55 L650.50,382.52 L650.51,385.58 L650.53,388.73 L650.54,391.97 L650.56,395.29 L650.57,398.70 L650.59,402.18 L650.61,405.74 L650.62,409.37 L650.64,413.07 L650.65,416.84 L650.67,420.66 L650.68,424.55 L650.70,428.48 L650.72,432.47 L650.73,436.50 L650.75,440.57 L650.76,444.68 L650.78,448.82 L650.79,452.99 L650.81,457.19 L650.82,461.40 L650.84,465.64 L650.86,469.89 L650.87,474.14 L650.89,478.40 L650.90,482.66 L650.92,486.91 L650.93,491.16 L650.95,495.40 L650.97,499.61 L650.98,503.81 L651.00,507.98 L651.01,512.12 L651.03,516.23 L651.04,520.30 L651.06,524.33 L651.08,528.32 L651.09,532.25 L651.11,536.14 L651.12,539.96 L651.14,543.73 L651.15,547.43 L651.17,551.06 L651.18,554.62 L651.20,558.10 L651.22,561.51 L651.23,564.83 L651.25,568.07 L651.26,571.22 L651.28,574.28 L651.29,577.25 L651.31,580.12 L651.33,582.88 L651.34,585.55 L651.36,588.10 L651.37,590.55 L651.39,592.89 L651.40,595.12 L651.42,597.23 L651.43,599.22 L651.45,601.09 L651.47,602.85 L651.48,604.48 L651.50,605.98 L651.51,607.36 L651.53,608.62 L651.54,609.74 L651.56,610.73 L651.58,611.60 L651.59,612.33 L651.61,612.93 L651.62,613.40 L651.64,613.73 L651.65,613.93 L651.67,614.00 L651.69,613.93 L651.70,613.73 L651.72,613.40 L651.73,612.93 L651.75,612.33 L651.76,611.60 L651.78,610.73 L651.79,609.74 L651.81,608.62 L651.83,607.36 L651.84,605.98 L651.86,604.48 L651.87,602.85 L651.89,601.09 L651.90,599.22 L651.92,597.23 L651.94,595.12 L651.95,592.89 L651.97,590.55 L651.98,588.10 L652.00,585.55 L652.01,582.88 L652.03,580.12 L652.04,577.25 L652.06,574.28 L652.08,571.22 L652.09,568.07 L652.11,564.83 L652.12,561.51 L652.14,558.10 L652.15,554.62 L652.17,551.06 L652.19,547.43 L652.20,543.73 L652.22,539.96 L652.23,536.14 L652.25,532.25 L652.26,528.32 L652.28,524.33 L652.30,520.30 L652.31,516.23 L652.33,512.12 L652.34,507.98 L652.36,503.81 L652.37,499.61 L652.39,495.40 L652.40,491.16 L652.42,486.91 L652.44,482.66 L652.45,478.40 L652.47,474.14 L652.48,469.89 L652.50,465.64 L652.51,461.40 L652.53,457.19 L652.55,452.99 L652.56,448.82 L652.58,444.68 L652.59,440.57 L652.61,436.50 L652.62,432.47 L652.64,428.48 L652.66,424.55 L652.67,420.66 L652.69,416.84 L652.70,413.07 L652.72,409.37 L652.73,405.74 L652.75,402.18 L652.76,398.70 L652.78,395.29 L652.80,391.97 L652.81,388.73 L652.83,385.58 L652.84,382.52 L652.86,379.55 L652.87,376.68 L652.89,373.92 L652.91,371.25 L652.92,368.70 L652.94,366.25 L652.95,363.91 L652.97,361.68 L652.98,359.57 L653.00,357.58 L653.01,355.71 L653.03,353.95 L653.05,352.32 L653.06,350.82 L653.08,349.44 L653.09,348.18 L653.11,347.06 L653.12,346.07 L653.14,345.20 L653.16,344.47 L653.17,343.87 L653.19,343.40 L653.20,343.07 L653.22,342.87 L653.23,342.80 L653.25,342.87 L653.27,343.07 L653.28,343.40 L653.30,343.87 L653.31,344.47 L653.33,345.20 L653.34,346.07 L653.36,347.06 L653.37,348.18 L653.39,349.44 L653.41,350.82 L653.42,352.32 L653.44,353.95 L653.45,355.71 L653.47,357.58 L653.48,359.57 L653.50,361.68 L653.52,363.91 L653.53,366.25 L653.55,368.70 L653.56,371.25 L653.58,373.92 L653.59,376.68 L653.61,379.55 L653.62,382.52 L653.64,385.58 L653.66,388.73 L653.67,391.97 L653.69,395.29 L653.70,398.70 L653.72,402.18 L653.73,405.74 L653.75,409.37 L653.77,413.07 L653.78,416.84 L653.80,420.66 L653.81,424.55 L653.83,428.48 L653.84,432.47 L653.86,436.50 L653.88,440.57 L653.89,444.68 L653.91,448.82 L653.92,452.99 L653.94,457.19 L653.95,461.40 L653.97,465.64 L653.98,469.89 L654.00,474.14 L654.02,478.40 L654.03,482.66 L654.05,486.91 L654.06,491.16 L654.08,495.40 L654.09,499.61 L654.11,503.81 L654.13,507.98 L654.14,512.12 L654.16,516.23 L654.17,520.30 L654.19,524.33 L654.20,528.32 L654.22,532.25 L654.23,536.14 L654.25,539.96 L654.27,543.73 L654.28,547.43 L654.30,551.06 L654.31,554.62 L654.33,558.10 L654.34,561.51 L654.36,564.83 L654.38,568.07 L654.39,571.22 L654.41,574.28 L654.42,577.25 L654.44,580.12 L654.45,582.88 L654.47,585.55 L654.49,588.10 L654.50,590.55 L654.52,592.89 L654.53,595.12 L654.55,597.23 L654.56,599.22 L654.58,601.09 L654.59,602.85 L654.61,604.48 L654.63,605.98 L654.64,607.36 L654.66,608.62 L654.67,609.74 L654.69,610.73 L654.70,611.60 L654.72,612.33 L654.74,612.93 L654.75,613.40 L654.77,613.73 L654.78,613.93 L654.80,614.00 L654.81,613.93 L654.83,613.73 L654.84,613.40 L654.86,612.93 L654.88,612.33 L654.89,611.60 L654.91,610.73 L654.92,609.74 L654.94,608.62 L654.95,607.36 L654.97,605.98 L654.99,604.48 L655.00,602.85 L655.02,601.09 L655.03,599.22 L655.05,597.23 L655.06,595.12 L655.08,592.89 L655.10,590.55 L655.11,588.10 L655.13,585.55 L655.14,582.88 L655.16,580.12 L655.17,577.25 L655.19,574.28 L655.20,571.22 L655.22,568.07 L655.24,564.83 L655.25,561.51 L655.27,558.10 L655.28,554.62 L655.30,551.06 L655.31,547.43 L655.33,543.73 L655.35,539.96 L655.36,536.14 L655.38,532.25 L655.39,528.32 L655.41,524.33 L655.42,520.30 L655.44,516.23 L655.45,512.12 L655.47,507.98 L655.49,503.81 L655.50,499.61 L655.52,495.40 L655.53,491.16 L655.55,486.91 L655.56,482.66 L655.58,478.40 L655.60,474.14 L655.61,469.89 L655.63,465.64 L655.64,461.40 L655.66,457.19 L655.67,452.99 L655.69,448.82 L655.71,444.68 L655.72,440.57 L655.74,436.50 L655.75,432.47 L655.77,428.48 L655.78,424.55 L655.80,420.66 L655.81,416.84 L655.83,413.07 L655.85,409.37 L655.86,405.74 L655.88,402.18 L655.89,398.70 L655.91,395.29 L655.92,391.97 L655.94,388.73 L655.96,385.58 L655.97,382.52 L655.99,379.55 L656.00,376.68 L656.02,373.92 L656.03,371.25 L656.05,368.70 L656.06,366.25 L656.08,363.91 L656.10,361.68 L656.11,359.57 L656.13,357.58 L656.14,355.71 L656.16,353.95 L656.17,352.32 L656.19,350.82 L656.21,349.44 L656.22,348.18 L656.24,347.06 L656.25,346.07 L656.27,345.20 L656.28,344.47 L656.30,343.87 L656.32,343.40 L656.33,343.07 L656.35,342.87 L656.36,342.80 L656.38,342.87 L656.39,343.07 L656.41,343.40 L656.42,343.87 L656.44,344.47 L656.46,345.20 L656.47,346.07 L656.49,347.06 L656.50,348.18 L656.52,349.44 L656.53,350.82 L656.55,352.32 L656.57,353.95 L656.58,355.71 L656.60,357.58 L656.61,359.57 L656.63,361.68 L656.64,363.91 L656.66,366.25 L656.67,368.70 L656.69,371.25 L656.71,373.92 L656.72,376.68 L656.74,379.55 L656.75,382.52 L656.77,385.58 L656.78,388.73 L656.80,391.97 L656.82,395.29 L656.83,398.70 L656.85,402.18 L656.86,405.74 L656.88,409.37 L656.89,413.07 L656.91,416.84 L656.93,420.66 L656.94,424.55 L656.96,428.48 L656.97,432.47 L656.99,436.50 L657.00,440.57 L657.02,444.68 L657.03,448.82 L657.05,452.99 L657.07,457.19 L657.08,461.40 L657.10,465.64 L657.11,469.89 L657.13,474.14 L657.14,478.40 L657.16,482.66 L657.18,486.91 L657.19,491.16 L657.21,495.40 L657.22,499.61 L657.24,503.81 L657.25,507.98 L657.27,512.12 L657.28,516.23 L657.30,520.30 L657.32,524.33 L657.33,528.32 L657.35,532.25 L657.36,536.14 L657.38,539.96 L657.39,543.73 L657.41,547.43 L657.43,551.06 L657.44,554.62 L657.46,558.10 L657.47,561.51 L657.49,564.83 L657.50,568.07 L657.52,571.22 L657.54,574.28 L657.55,577.25 L657.57,580.12 L657.58,582.88 L657.60,585.55 L657.61,588.10 L657.63,590.55 L657.64,592.89 L657.66,595.12 L657.68,597.23 L657.69,599.22 L657.71,601.09 L657.72,602.85 L657.74,604.48 L657.75,605.98 L657.77,607.36 L657.79,608.62 L657.80,609.74 L657.82,610.73 L657.83,611.60 L657.85,612.33 L657.86,612.93 L657.88,613.40 L657.89,613.73 L657.91,613.93 L657.93,614.00 L657.94,613.93 L657.96,613.73 L657.97,613.40 L657.99,612.93 L658.00,612.33 L658.02,611.60 L658.04,610.73 L658.05,609.74 L658.07,608.62 L658.08,607.36 L658.10,605.98 L658.11,604.48 L658.13,602.85 L658.15,601.09 L658.16,599.22 L658.18,597.23 L658.19,595.12 L658.21,592.89 L658.22,590.55 L658.24,588.10 L658.25,585.55 L658.27,582.88 L658.29,580.12 L658.30,577.25 L658.32,574.28 L658.33,571.22 L658.35,568.07 L658.36,564.83 L658.38,561.51 L658.40,558.10 L658.41,554.62 L658.43,551.06 L658.44,547.43 L658.46,543.73 L658.47,539.96 L658.49,536.14 L658.50,532.25 L658.52,528.32 L658.54,524.33 L658.55,520.30 L658.57,516.23 L658.58,512.12 L658.60,507.98 L658.61,503.81 L658.63,499.61 L658.65,495.40 L658.66,491.16 L658.68,486.91 L658.69,482.66 L658.71,478.40 L658.72,474.14 L658.74,469.89 L658.76,465.64 L658.77,461.40 L658.79,457.19 L658.80,452.99 L658.82,448.82 L658.83,444.68 L658.85,440.57 L658.86,436.50 L658.88,432.47 L658.90,428.48 L658.91,424.55 L658.93,420.66 L658.94,416.84 L658.96,413.07 L658.97,409.37 L658.99,405.74 L659.01,402.18 L659.02,398.70 L659.04,395.29 L659.05,391.97 L659.07,388.73 L659.08,385.58 L659.10,382.52 L659.12,379.55 L659.13,376.68 L659.15,373.92 L659.16,371.25 L659.18,368.70 L659.19,366.25 L659.21,363.91 L659.22,361.68 L659.24,359.57 L659.26,357.58 L659.27,355.71 L659.29,353.95 L659.30,352.32 L659.32,350.82 L659.33,349.44 L659.35,348.18 L659.37,347.06 L659.38,346.07 L659.40,345.20 L659.41,344.47 L659.43,343.87 L659.44,343.40 L659.46,343.07 L659.47,342.87 L659.49,342.80 L659.51,342.87 L659.52,343.07 L659.54,343.40 L659.55,343.87 L659.57,344.47 L659.58,345.20 L659.60,346.07 L659.62,347.06 L659.63,348.18 L659.65,349.44 L659.66,350.82 L659.68,352.32 L659.69,353.95 L659.71,355.71 L659.73,357.58 L659.74,359.57 L659.76,361.68 L659.77,363.91 L659.79,366.25 L659.80,368.70 L659.82,371.25 L659.83,373.92 L659.85,376.68 L659.87,379.55 L659.88,382.52 L659.90,385.58 L659.91,388.73 L659.93,391.97 L659.94,395.29 L659.96,398.70 L659.98,402.18 L659.99,405.74 L660.01,409.37 L660.02,413.07 L660.04,416.84 L660.05,420.66 L660.07,424.55 L660.08,428.48 L660.10,432.47 L660.12,436.50 L660.13,440.57 L660.15,444.68 L660.16,448.82 L660.18,452.99 L660.19,457.19 L660.21,461.40 L660.23,465.64 L660.24,469.89 L660.26,474.14 L660.27,478.40 L660.29,482.66 L660.30,486.91 L660.32,491.16 L660.34,495.40 L660.35,499.61 L660.37,503.81 L660.38,507.98 L660.40,512.12 L660.41,516.23 L660.43,520.30 L660.44,524.33 L660.46,528.32 L660.48,532.25 L660.49,536.14 L660.51,539.96 L660.52,543.73 L660.54,547.43 L660.55,551.06 L660.57,554.62 L660.59,558.10 L660.60,561.51 L660.62,564.83 L660.63,568.07 L660.65,571.22 L660.66,574.28 L660.68,577.25 L660.69,580.12 L660.71,582.88 L660.73,585.55 L660.74,588.10 L660.76,590.55 L660.77,592.89 L660.79,595.12 L660.80,597.23 L660.82,599.22 L660.84,601.09 L660.85,602.85 L660.87,604.48 L660.88,605.98 L660.90,607.36 L660.91,608.62 L660.93,609.74 L660.95,610.73 L660.96,611.60 L660.98,612.33 L660.99,612.93 L661.01,613.40 L661.02,613.73 L661.04,613.93 L661.05,614.00 L661.07,613.93 L661.09,613.73 L661.10,613.40 L661.12,612.93 L661.13,612.33 L661.15,611.60 L661.16,610.73 L661.18,609.74 L661.20,608.62 L661.21,607.36 L661.23,605.98 L661.24,604.48 L661.26,602.85 L661.27,601.09 L661.29,599.22 L661.30,597.23 L661.32,595.12 L661.34,592.89 L661.35,590.55 L661.37,588.10 L661.38,585.55 L661.40,582.88 L661.41,580.12 L661.43,577.25 L661.45,574.28 L661.46,571.22 L661.48,568.07 L661.49,564.83 L661.51,561.51 L661.52,558.10 L661.54,554.62 L661.56,551.06 L661.57,547.43 L661.59,543.73 L661.60,539.96 L661.62,536.14 L661.63,532.25 L661.65,528.32 L661.66,524.33 L661.68,520.30 L661.70,516.23 L661.71,512.12 L661.73,507.98 L661.74,503.81 L661.76,499.61 L661.77,495.40 L661.79,491.16 L661.81,486.91 L661.82,482.66 L661.84,478.40 L661.85,474.14 L661.87,469.89 L661.88,465.64 L661.90,461.40 L661.91,457.19 L661.93,452.99 L661.95,448.82 L661.96,444.68 L661.98,440.57 L661.99,436.50 L662.01,432.47 L662.02,428.48 L662.04,424.55 L662.06,420.66 L662.07,416.84 L662.09,413.07 L662.10,409.37 L662.12,405.74 L662.13,402.18 L662.15,398.70 L662.17,395.29 L662.18,391.97 L662.20,388.73 L662.21,385.58 L662.23,382.52 L662.24,379.55 L662.26,376.68 L662.27,373.92 L662.29,371.25 L662.31,368.70 L662.32,366.25 L662.34,363.91 L662.35,361.68 L662.37,359.57 L662.38,357.58 L662.40,355.71 L662.42,353.95 L662.43,352.32 L662.45,350.82 L662.46,349.44 L662.48,348.18 L662.49,347.06 L662.51,346.07 L662.52,345.20 L662.54,344.47 L662.56,343.87 L662.57,343.40 L662.59,343.07 L662.60,342.87 L662.62,342.80 L662.63,342.87 L662.65,343.07 L662.67,343.40 L662.68,343.87 L662.70,344.47 L662.71,345.20 L662.73,346.07 L662.74,347.06 L662.76,348.18 L662.78,349.44 L662.79,350.82 L662.81,352.32 L662.82,353.95 L662.84,355.71 L662.85,357.58 L662.87,359.57 L662.88,361.68 L662.90,363.91 L662.92,366.25 L662.93,368.70 L662.95,371.25 L662.96,373.92 L662.98,376.68 L662.99,379.55 L663.01,382.52 L663.03,385.58 L663.04,388.73 L663.06,391.97 L663.07,395.29 L663.09,398.70 L663.10,402.18 L663.12,405.74 L663.13,409.37 L663.15,413.07 L663.17,416.84 L663.18,420.66 L663.20,424.55 L663.21,428.48 L663.23,432.47 L663.24,436.50 L663.26,440.57 L663.28,444.68 L663.29,448.82 L663.31,452.99 L663.32,457.19 L663.34,461.40 L663.35,465.64 L663.37,469.89 L663.39,474.14 L663.40,478.40 L663.42,482.66 L663.43,486.91 L663.45,491.16 L663.46,495.40 L663.48,499.61 L663.49,503.81 L663.51,507.98 L663.53,512.12 L663.54,516.23 L663.56,520.30 L663.57,524.33 L663.59,528.32 L663.60,532.25 L663.62,536.14 L663.64,539.96 L663.65,543.73 L663.67,547.43 L663.68,551.06 L663.70,554.62 L663.71,558.10 L663.73,561.51 L663.74,564.83 L663.76,568.07 L663.78,571.22 L663.79,574.28 L663.81,577.25 L663.82,580.12 L663.84,582.88 L663.85,585.55 L663.87,588.10 L663.89,590.55 L663.90,592.89 L663.92,595.12 L663.93,597.23 L663.95,599.22 L663.96,601.09 L663.98,602.85 L664.00,604.48 L664.01,605.98 L664.03,607.36 L664.04,608.62 L664.06,609.74 L664.07,610.73 L664.09,611.60 L664.10,612.33 L664.12,612.93 L664.14,613.40 L664.15,613.73 L664.17,613.93 L664.18,614.00 L664.20,613.93 L664.21,613.73 L664.23,613.40 L664.25,612.93 L664.26,612.33 L664.28,611.60 L664.29,610.73 L664.31,609.74 L664.32,608.62 L664.34,607.36 L664.35,605.98 L664.37,604.48 L664.39,602.85 L664.40,601.09 L664.42,599.22 L664.43,597.23 L664.45,595.12 L664.46,592.89 L664.48,590.55 L664.50,588.10 L664.51,585.55 L664.53,582.88 L664.54,580.12 L664.56,577.25 L664.57,574.28 L664.59,571.22 L664.61,568.07 L664.62,564.83 L664.64,561.51 L664.65,558.10 L664.67,554.62 L664.68,551.06 L664.70,547.43 L664.71,543.73 L664.73,539.96 L664.75,536.14 L664.76,532.25 L664.78,528.32 L664.79,524.33 L664.81,520.30 L664.82,516.23 L664.84,512.12 L664.86,507.98 L664.87,503.81 L664.89,499.61 L664.90,495.40 L664.92,491.16 L664.93,486.91 L664.95,482.66 L664.97,478.40 L664.98,474.14 L665.00,469.89 L665.01,465.64 L665.03,461.40 L665.04,457.19 L665.06,452.99 L665.07,448.82 L665.09,444.68 L665.11,440.57 L665.12,436.50 L665.14,432.47 L665.15,428.48 L665.17,424.55 L665.18,420.66 L665.20,416.84 L665.22,413.07 L665.23,409.37 L665.25,405.74 L665.26,402.18 L665.28,398.70 L665.29,395.29 L665.31,391.97 L665.32,388.73 L665.34,385.58 L665.36,382.52 L665.37,379.55 L665.39,376.68 L665.40,373.92 L665.42,371.25 L665.43,368.70 L665.45,366.25 L665.47,363.91 L665.48,361.68 L665.50,359.57 L665.51,357.58 L665.53,355.71 L665.54,353.95 L665.56,352.32 L665.58,350.82 L665.59,349.44 L665.61,348.18 L665.62,347.06 L665.64,346.07 L665.65,345.20 L665.67,344.47 L665.68,343.87 L665.70,343.40 L665.72,343.07 L665.73,342.87 L665.75,342.80 L665.76,342.87 L665.78,343.07 L665.79,343.40 L665.81,343.87 L665.83,344.47 L665.84,345.20 L665.86,346.07 L665.87,347.06 L665.89,348.18 L665.90,349.44 L665.92,350.82 L665.93,352.32 L665.95,353.95 L665.97,355.71 L665.98,357.58 L666.00,359.57 L666.01,361.68 L666.03,363.91 L666.04,366.25 L666.06,368.70 L666.08,371.25 L666.09,373.92 L666.11,376.68 L666.12,379.55 L666.14,382.52 L666.15,385.58 L666.17,388.73 L666.19,391.97 L666.20,395.29 L666.22,398.70 L666.23,402.18 L666.25,405.74 L666.26,409.37 L666.28,413.07 L666.29,416.84 L666.31,420.66 L666.33,424.55 L666.34,428.48 L666.36,432.47 L666.37,436.50 L666.39,440.57 L666.40,444.68 L666.42,448.82 L666.44,452.99 L666.45,457.19 L666.47,461.40 L666.48,465.64 L666.50,469.89 L666.51,474.14 L666.53,478.40 L666.54,482.66 L666.56,486.91 L666.58,491.16 L666.59,495.40 L666.61,499.61 L666.62,503.81 L666.64,507.98 L666.65,512.12 L666.67,516.23 L666.69,520.30 L666.70,524.33 L666.72,528.32 L666.73,532.25 L666.75,536.14 L666.76,539.96 L666.78,543.73 L666.80,547.43 L666.81,551.06 L666.83,554.62 L666.84,558.10 L666.86,561.51 L666.87,564.83 L666.89,568.07 L666.90,571.22 L666.92,574.28 L666.94,577.25 L666.95,580.12 L666.97,582.88 L666.98,585.55 L667.00,588.10 L667.01,590.55 L667.03,592.89 L667.05,595.12 L667.06,597.23 L667.08,599.22 L667.09,601.09 L667.11,602.85 L667.12,604.48 L667.14,605.98 L667.15,607.36 L667.17,608.62 L667.19,609.74 L667.20,610.73 L667.22,611.60 L667.23,612.33 L667.25,612.93 L667.26,613.40 L667.28,613.73 L667.30,613.93 L667.31,614.00 L667.33,613.93 L667.34,613.73 L667.36,613.40 L667.37,612.93 L667.39,612.33 L667.41,611.60 L667.42,610.73 L667.44,609.74 L667.45,608.62 L667.47,607.36 L667.48,605.98 L667.50,604.48 L667.51,602.85 L667.53,601.09 L667.55,599.22 L667.56,597.23 L667.58,595.12 L667.59,592.89 L667.61,590.55 L667.62,588.10 L667.64,585.55 L667.66,582.88 L667.67,580.12 L667.69,577.25 L667.70,574.28 L667.72,571.22 L667.73,568.07 L667.75,564.83 L667.76,561.51 L667.78,558.10 L667.80,554.62 L667.81,551.06 L667.83,547.43 L667.84,543.73 L667.86,539.96 L667.87,536.14 L667.89,532.25 L667.91,528.32 L667.92,524.33 L667.94,520.30 L667.95,516.23 L667.97,512.12 L667.98,507.98 L668.00,503.81 L668.02,499.61 L668.03,495.40 L668.05,491.16 L668.06,486.91 L668.08,482.66 L668.09,478.40 L668.11,474.14 L668.12,469.89 L668.14,465.64 L668.16,461.40 L668.17,457.19 L668.19,452.99 L668.20,448.82 L668.22,444.68 L668.23,440.57 L668.25,436.50 L668.27,432.47 L668.28,428.48 L668.30,424.55 L668.31,420.66 L668.33,416.84 L668.34,413.07 L668.36,409.37 L668.37,405.74 L668.39,402.18 L668.41,398.70 L668.42,395.29 L668.44,391.97 L668.45,388.73 L668.47,385.58 L668.48,382.52 L668.50,379.55 L668.52,376.68 L668.53,373.92 L668.55,371.25 L668.56,368.70 L668.58,366.25 L668.59,363.91 L668.61,361.68 L668.63,359.57 L668.64,357.58 L668.66,355.71 L668.67,353.95 L668.69,352.32 L668.70,350.82 L668.72,349.44 L668.73,348.18 L668.75,347.06 L668.77,346.07 L668.78,345.20 L668.80,344.47 L668.81,343.87 L668.83,343.40 L668.84,343.07 L668.86,342.87 L668.88,342.80 L668.89,342.87 L668.91,343.07 L668.92,343.40 L668.94,343.87 L668.95,344.47 L668.97,345.20 L668.98,346.07 L669.00,347.06 L669.02,348.18 L669.03,349.44 L669.05,350.82 L669.06,352.32 L669.08,353.95 L669.09,355.71 L669.11,357.58 L669.13,359.57 L669.14,361.68 L669.16,363.91 L669.17,366.25 L669.19,368.70 L669.20,371.25 L669.22,373.92 L669.24,376.68 L669.25,379.55 L669.27,382.52 L669.28,385.58 L669.30,388.73 L669.31,391.97 L669.33,395.29 L669.34,398.70 L669.36,402.18 L669.38,405.74 L669.39,409.37 L669.41,413.07 L669.42,416.84 L669.44,420.66 L669.45,424.55 L669.47,428.48 L669.49,432.47 L669.50,436.50 L669.52,440.57 L669.53,444.68 L669.55,448.82 L669.56,452.99 L669.58,457.19 L669.59,461.40 L669.61,465.64 L669.63,469.89 L669.64,474.14 L669.66,478.40 L669.67,482.66 L669.69,486.91 L669.70,491.16 L669.72,495.40 L669.74,499.61 L669.75,503.81 L669.77,507.98 L669.78,512.12 L669.80,516.23 L669.81,520.30 L669.83,524.33 L669.85,528.32 L669.86,532.25 L669.88,536.14 L669.89,539.96 L669.91,543.73 L669.92,547.43 L669.94,551.06 L669.95,554.62 L669.97,558.10 L669.99,561.51 L670.00,564.83 L670.02,568.07 L670.03,571.22 L670.05,574.28 L670.06,577.25 L670.08,580.12 L670.10,582.88 L670.11,585.55 L670.13,588.10 L670.14,590.55 L670.16,592.89 L670.17,595.12 L670.19,597.23 L670.20,599.22 L670.22,601.09 L670.24,602.85 L670.25,604.48 L670.27,605.98 L670.28,607.36 L670.30,608.62 L670.31,609.74 L670.33,610.73 L670.35,611.60 L670.36,612.33 L670.38,612.93 L670.39,613.40 L670.41,613.73 L670.42,613.93 L670.44,614.00 L670.46,613.93 L670.47,613.73 L670.49,613.40 L670.50,612.93 L670.52,612.33 L670.53,611.60 L670.55,610.73 L670.56,609.74 L670.58,608.62 L670.60,607.36 L670.61,605.98 L670.63,604.48 L670.64,602.85 L670.66,601.09 L670.67,599.22 L670.69,597.23 L670.71,595.12 L670.72,592.89 L670.74,590.55 L670.75,588.10 L670.77,585.55 L670.78,582.88 L670.80,580.12 L670.81,577.25 L670.83,574.28 L670.85,571.22 L670.86,568.07 L670.88,564.83 L670.89,561.51 L670.91,558.10 L670.92,554.62 L670.94,551.06 L670.96,547.43 L670.97,543.73 L670.99,539.96 L671.00,536.14 L671.02,532.25 L671.03,528.32 L671.05,524.33 L671.07,520.30 L671.08,516.23 L671.10,512.12 L671.11,507.98 L671.13,503.81 L671.14,499.61 L671.16,495.40 L671.17,491.16 L671.19,486.91 L671.21,482.66 L671.22,478.40 L671.24,474.14 L671.25,469.89 L671.27,465.64 L671.28,461.40 L671.30,457.19 L671.32,452.99 L671.33,448.82 L671.35,444.68 L671.36,440.57 L671.38,436.50 L671.39,432.47 L671.41,428.48 L671.43,424.55 L671.44,420.66 L671.46,416.84 L671.47,413.07 L671.49,409.37 L671.50,405.74 L671.52,402.18 L671.53,398.70 L671.55,395.29 L671.57,391.97 L671.58,388.73 L671.60,385.58 L671.61,382.52 L671.63,379.55 L671.64,376.68 L671.66,373.92 L671.68,371.25 L671.69,368.70 L671.71,366.25 L671.72,363.91 L671.74,361.68 L671.75,359.57 L671.77,357.58 L671.78,355.71 L671.80,353.95 L671.82,352.32 L671.83,350.82 L671.85,349.44 L671.86,348.18 L671.88,347.06 L671.89,346.07 L671.91,345.20 L671.93,344.47 L671.94,343.87 L671.96,343.40 L671.97,343.07 L671.99,342.87 L672.00,342.80 L672.02,342.87 L672.04,343.07 L672.05,343.40 L672.07,343.87 L672.08,344.47 L672.10,345.20 L672.11,346.07 L672.13,347.06 L672.14,348.18 L672.16,349.44 L672.18,350.82 L672.19,352.32 L672.21,353.95 L672.22,355.71 L672.24,357.58 L672.25,359.57 L672.27,361.68 L672.29,363.91 L672.30,366.25 L672.32,368.70 L672.33,371.25 L672.35,373.92 L672.36,376.68 L672.38,379.55 L672.39,382.52 L672.41,385.58 L672.43,388.73 L672.44,391.97 L672.46,395.29 L672.47,398.70 L672.49,402.18 L672.50,405.74 L672.52,409.37 L672.54,413.07 L672.55,416.84 L672.57,420.66 L672.58,424.55 L672.60,428.48 L672.61,432.47 L672.63,436.50 L672.65,440.57 L672.66,444.68 L672.68,448.82 L672.69,452.99 L672.71,457.19 L672.72,461.40 L672.74,465.64 L672.75,469.89 L672.77,474.14 L672.79,478.40 L672.80,482.66 L672.82,486.91 L672.83,491.16 L672.85,495.40 L672.86,499.61 L672.88,503.81 L672.90,507.98 L672.91,512.12 L672.93,516.23 L672.94,520.30 L672.96,524.33 L672.97,528.32 L672.99,532.25 L673.00,536.14 L673.02,539.96 L673.04,543.73 L673.05,547.43 L673.07,551.06 L673.08,554.62 L673.10,558.10 L673.11,561.51 L673.13,564.83 L673.15,568.07 L673.16,571.22 L673.18,574.28 L673.19,577.25 L673.21,580.12 L673.22,582.88 L673.24,585.55 L673.26,588.10 L673.27,590.55 L673.29,592.89 L673.30,595.12 L673.32,597.23 L673.33,599.22 L673.35,601.09 L673.36,602.85 L673.38,604.48 L673.40,605.98 L673.41,607.36 L673.43,608.62 L673.44,609.74 L673.46,610.73 L673.47,611.60 L673.49,612.33 L673.51,612.93 L673.52,613.40 L673.54,613.73 L673.55,613.93 L673.57,614.00 L673.58,613.93 L673.60,613.73 L673.61,613.40 L673.63,612.93 L673.65,612.33 L673.66,611.60 L673.68,610.73 L673.69,609.74 L673.71,608.62 L673.72,607.36 L673.74,605.98 L673.76,604.48 L673.77,602.85 L673.79,601.09 L673.80,599.22 L673.82,597.23 L673.83,595.12 L673.85,592.89 L673.87,590.55 L673.88,588.10 L673.90,585.55 L673.91,582.88 L673.93,580.12 L673.94,577.25 L673.96,574.28 L673.97,571.22 L673.99,568.07 L674.01,564.83 L674.02,561.51 L674.04,558.10 L674.05,554.62 L674.07,551.06 L674.08,547.43 L674.10,543.73 L674.12,539.96 L674.13,536.14 L674.15,532.25 L674.16,528.32 L674.18,524.33 L674.19,520.30 L674.21,516.23 L674.22,512.12 L674.24,507.98 L674.26,503.81 L674.27,499.61 L674.29,495.40 L674.30,491.16 L674.32,486.91 L674.33,482.66 L674.35,478.40" fill="none" stroke="#000" stroke-width="1.05" stroke-linejoin="round" clip-path="url(#c23)"/>
<line x1="52.30" y1="478.5" x2="146.65" y2="478.5" stroke="#d9d9d9" stroke-width="1" stroke-dasharray="6.6 4.45"/>
<line x1="52.50" y1="342.80" x2="52.50" y2="613.70" stroke="#000" stroke-width="1" stroke-linecap="round"/>
<line x1="45.80" y1="342.80" x2="52.50" y2="342.80" stroke="#000" stroke-width="1" stroke-linecap="round"/>
<line x1="45.80" y1="601.20" x2="52.50" y2="601.20" stroke="#000" stroke-width="1" stroke-linecap="round"/>
<text x="36.30" y="601.20" font-size="11.1" text-anchor="middle" transform="rotate(-90 36.30 601.20)" fill="#000">-4000</text>
<line x1="45.80" y1="539.80" x2="52.50" y2="539.80" stroke="#000" stroke-width="1" stroke-linecap="round"/>
<text x="36.30" y="539.80" font-size="11.1" text-anchor="middle" transform="rotate(-90 36.30 539.80)" fill="#000">-2000</text>
<line x1="45.80" y1="478.40" x2="52.50" y2="478.40" stroke="#000" stroke-width="1" stroke-linecap="round"/>
<text x="36.30" y="478.40" font-size="11.1" text-anchor="middle" transform="rotate(-90 36.30 478.40)" fill="#000">0</text>
<line x1="45.80" y1="417.00" x2="52.50" y2="417.00" stroke="#000" stroke-width="1" stroke-linecap="round"/>
<text x="36.30" y="417.00" font-size="11.1" text-anchor="middle" transform="rotate(-90 36.30 417.00)" fill="#000">2000</text>
<line x1="45.80" y1="355.60" x2="52.50" y2="355.60" stroke="#000" stroke-width="1" stroke-linecap="round"/>
<text x="36.30" y="355.60" font-size="11.1" text-anchor="middle" transform="rotate(-90 36.30 355.60)" fill="#000">4000</text>
<line x1="52.50" y1="613.70" x2="146.35" y2="613.70" stroke="#000" stroke-width="1" stroke-linecap="round"/>
<line x1="52.50" y1="613.70" x2="52.50" y2="620.40" stroke="#000" stroke-width="1" stroke-linecap="round"/>
<text x="52.50" y="638.10" font-size="11.1" text-anchor="middle" fill="#000">0.0</text>
<line x1="68.14" y1="613.70" x2="68.14" y2="620.40" stroke="#000" stroke-width="1" stroke-linecap="round"/>
<line x1="83.78" y1="613.70" x2="83.78" y2="620.40" stroke="#000" stroke-width="1" stroke-linecap="round"/>
<text x="83.78" y="638.10" font-size="11.1" text-anchor="middle" fill="#000">1.0</text>
<line x1="99.42" y1="613.70" x2="99.42" y2="620.40" stroke="#000" stroke-width="1" stroke-linecap="round"/>
<line x1="115.07" y1="613.70" x2="115.07" y2="620.40" stroke="#000" stroke-width="1" stroke-linecap="round"/>
<text x="115.07" y="638.10" font-size="11.1" text-anchor="middle" fill="#000">2.0</text>
<line x1="130.71" y1="613.70" x2="130.71" y2="620.40" stroke="#000" stroke-width="1" stroke-linecap="round"/>
<line x1="146.35" y1="613.70" x2="146.35" y2="620.40" stroke="#000" stroke-width="1" stroke-linecap="round"/>
<text x="146.35" y="638.10" font-size="11.1" text-anchor="middle" fill="#000">3.0</text>
<text x="99.42" y="664.00" font-size="11.9" text-anchor="middle" fill="#000">Time (s)</text>
<line x1="228.30" y1="478.5" x2="322.65" y2="478.5" stroke="#d9d9d9" stroke-width="1" stroke-dasharray="6.6 4.45"/>
<line x1="228.50" y1="342.80" x2="228.50" y2="613.70" stroke="#000" stroke-width="1" stroke-linecap="round"/>
<line x1="221.80" y1="342.80" x2="228.50" y2="342.80" stroke="#000" stroke-width="1" stroke-linecap="round"/>
<line x1="221.80" y1="594.20" x2="228.50" y2="594.20" stroke="#000" stroke-width="1" stroke-linecap="round"/>
<text x="212.30" y="594.20" font-size="11.1" text-anchor="middle" transform="rotate(-90 212.30 594.20)" fill="#000">-15000</text>
<line x1="221.80" y1="555.60" x2="228.50" y2="555.60" stroke="#000" stroke-width="1" stroke-linecap="round"/>
<line x1="221.80" y1="517.00" x2="228.50" y2="517.00" stroke="#000" stroke-width="1" stroke-linecap="round"/>
<text x="212.30" y="517.00" font-size="11.1" text-anchor="middle" transform="rotate(-90 212.30 517.00)" fill="#000">-5000</text>
<line x1="221.80" y1="478.40" x2="228.50" y2="478.40" stroke="#000" stroke-width="1" stroke-linecap="round"/>
<text x="212.30" y="478.40" font-size="11.1" text-anchor="middle" transform="rotate(-90 212.30 478.40)" fill="#000">0</text>
<line x1="221.80" y1="439.80" x2="228.50" y2="439.80" stroke="#000" stroke-width="1" stroke-linecap="round"/>
<text x="212.30" y="439.80" font-size="11.1" text-anchor="middle" transform="rotate(-90 212.30 439.80)" fill="#000">5000</text>
<line x1="221.80" y1="401.20" x2="228.50" y2="401.20" stroke="#000" stroke-width="1" stroke-linecap="round"/>
<text x="212.30" y="401.20" font-size="11.1" text-anchor="middle" transform="rotate(-90 212.30 401.20)" fill="#000">10000</text>
<line x1="221.80" y1="362.60" x2="228.50" y2="362.60" stroke="#000" stroke-width="1" stroke-linecap="round"/>
<line x1="228.50" y1="613.70" x2="322.35" y2="613.70" stroke="#000" stroke-width="1" stroke-linecap="round"/>
<line x1="228.50" y1="613.70" x2="228.50" y2="620.40" stroke="#000" stroke-width="1" stroke-linecap="round"/>
<text x="228.50" y="638.10" font-size="11.1" text-anchor="middle" fill="#000">0.0</text>
<line x1="244.14" y1="613.70" x2="244.14" y2="620.40" stroke="#000" stroke-width="1" stroke-linecap="round"/>
<line x1="259.78" y1="613.70" x2="259.78" y2="620.40" stroke="#000" stroke-width="1" stroke-linecap="round"/>
<text x="259.78" y="638.10" font-size="11.1" text-anchor="middle" fill="#000">1.0</text>
<line x1="275.43" y1="613.70" x2="275.43" y2="620.40" stroke="#000" stroke-width="1" stroke-linecap="round"/>
<line x1="291.07" y1="613.70" x2="291.07" y2="620.40" stroke="#000" stroke-width="1" stroke-linecap="round"/>
<text x="291.07" y="638.10" font-size="11.1" text-anchor="middle" fill="#000">2.0</text>
<line x1="306.71" y1="613.70" x2="306.71" y2="620.40" stroke="#000" stroke-width="1" stroke-linecap="round"/>
<line x1="322.35" y1="613.70" x2="322.35" y2="620.40" stroke="#000" stroke-width="1" stroke-linecap="round"/>
<text x="322.35" y="638.10" font-size="11.1" text-anchor="middle" fill="#000">3.0</text>
<text x="275.43" y="664.00" font-size="11.9" text-anchor="middle" fill="#000">Time (s)</text>
<line x1="404.30" y1="478.5" x2="498.65" y2="478.5" stroke="#d9d9d9" stroke-width="1" stroke-dasharray="6.6 4.45"/>
<line x1="404.50" y1="342.80" x2="404.50" y2="613.70" stroke="#000" stroke-width="1" stroke-linecap="round"/>
<line x1="397.80" y1="342.80" x2="404.50" y2="342.80" stroke="#000" stroke-width="1" stroke-linecap="round"/>
<line x1="397.80" y1="582.00" x2="404.50" y2="582.00" stroke="#000" stroke-width="1" stroke-linecap="round"/>
<text x="388.30" y="582.00" font-size="11.1" text-anchor="middle" transform="rotate(-90 388.30 582.00)" fill="#000">-20000</text>
<line x1="397.80" y1="530.20" x2="404.50" y2="530.20" stroke="#000" stroke-width="1" stroke-linecap="round"/>
<text x="388.30" y="530.20" font-size="11.1" text-anchor="middle" transform="rotate(-90 388.30 530.20)" fill="#000">-10000</text>
<line x1="397.80" y1="478.40" x2="404.50" y2="478.40" stroke="#000" stroke-width="1" stroke-linecap="round"/>
<text x="388.30" y="478.40" font-size="11.1" text-anchor="middle" transform="rotate(-90 388.30 478.40)" fill="#000">0</text>
<line x1="397.80" y1="426.60" x2="404.50" y2="426.60" stroke="#000" stroke-width="1" stroke-linecap="round"/>
<text x="388.30" y="426.60" font-size="11.1" text-anchor="middle" transform="rotate(-90 388.30 426.60)" fill="#000">10000</text>
<line x1="397.80" y1="374.80" x2="404.50" y2="374.80" stroke="#000" stroke-width="1" stroke-linecap="round"/>
<text x="388.30" y="374.80" font-size="11.1" text-anchor="middle" transform="rotate(-90 388.30 374.80)" fill="#000">20000</text>
<line x1="404.50" y1="613.70" x2="498.35" y2="613.70" stroke="#000" stroke-width="1" stroke-linecap="round"/>
<line x1="404.50" y1="613.70" x2="404.50" y2="620.40" stroke="#000" stroke-width="1" stroke-linecap="round"/>
<text x="404.50" y="638.10" font-size="11.1" text-anchor="middle" fill="#000">0.00</text>
<line x1="420.14" y1="613.70" x2="420.14" y2="620.40" stroke="#000" stroke-width="1" stroke-linecap="round"/>
<line x1="435.78" y1="613.70" x2="435.78" y2="620.40" stroke="#000" stroke-width="1" stroke-linecap="round"/>
<text x="435.78" y="638.10" font-size="11.1" text-anchor="middle" fill="#000">0.10</text>
<line x1="451.43" y1="613.70" x2="451.43" y2="620.40" stroke="#000" stroke-width="1" stroke-linecap="round"/>
<line x1="467.07" y1="613.70" x2="467.07" y2="620.40" stroke="#000" stroke-width="1" stroke-linecap="round"/>
<text x="467.07" y="638.10" font-size="11.1" text-anchor="middle" fill="#000">0.20</text>
<line x1="482.71" y1="613.70" x2="482.71" y2="620.40" stroke="#000" stroke-width="1" stroke-linecap="round"/>
<line x1="498.35" y1="613.70" x2="498.35" y2="620.40" stroke="#000" stroke-width="1" stroke-linecap="round"/>
<text x="498.35" y="638.10" font-size="11.1" text-anchor="middle" fill="#000">0.30</text>
<text x="451.43" y="664.00" font-size="11.9" text-anchor="middle" fill="#000">Time (s)</text>
<line x1="580.30" y1="478.5" x2="674.65" y2="478.5" stroke="#d9d9d9" stroke-width="1" stroke-dasharray="6.6 4.45"/>
<line x1="580.50" y1="342.80" x2="580.50" y2="613.70" stroke="#000" stroke-width="1" stroke-linecap="round"/>
<line x1="573.80" y1="342.80" x2="580.50" y2="342.80" stroke="#000" stroke-width="1" stroke-linecap="round"/>
<line x1="573.80" y1="582.00" x2="580.50" y2="582.00" stroke="#000" stroke-width="1" stroke-linecap="round"/>
<text x="564.30" y="582.00" font-size="11.1" text-anchor="middle" transform="rotate(-90 564.30 582.00)" fill="#000">-20000</text>
<line x1="573.80" y1="530.20" x2="580.50" y2="530.20" stroke="#000" stroke-width="1" stroke-linecap="round"/>
<text x="564.30" y="530.20" font-size="11.1" text-anchor="middle" transform="rotate(-90 564.30 530.20)" fill="#000">-10000</text>
<line x1="573.80" y1="478.40" x2="580.50" y2="478.40" stroke="#000" stroke-width="1" stroke-linecap="round"/>
<text x="564.30" y="478.40" font-size="11.1" text-anchor="middle" transform="rotate(-90 564.30 478.40)" fill="#000">0</text>
<line x1="573.80" y1="426.60" x2="580.50" y2="426.60" stroke="#000" stroke-width="1" stroke-linecap="round"/>
<text x="564.30" y="426.60" font-size="11.1" text-anchor="middle" transform="rotate(-90 564.30 426.60)" fill="#000">10000</text>
<line x1="573.80" y1="374.80" x2="580.50" y2="374.80" stroke="#000" stroke-width="1" stroke-linecap="round"/>
<text x="564.30" y="374.80" font-size="11.1" text-anchor="middle" transform="rotate(-90 564.30 374.80)" fill="#000">20000</text>
<line x1="580.50" y1="613.70" x2="674.35" y2="613.70" stroke="#000" stroke-width="1" stroke-linecap="round"/>
<line x1="580.50" y1="613.70" x2="580.50" y2="620.40" stroke="#000" stroke-width="1" stroke-linecap="round"/>
<text x="580.50" y="638.10" font-size="11.1" text-anchor="middle" fill="#000">0.00</text>
<line x1="596.14" y1="613.70" x2="596.14" y2="620.40" stroke="#000" stroke-width="1" stroke-linecap="round"/>
<line x1="611.78" y1="613.70" x2="611.78" y2="620.40" stroke="#000" stroke-width="1" stroke-linecap="round"/>
<text x="611.78" y="638.10" font-size="11.1" text-anchor="middle" fill="#000">0.10</text>
<line x1="627.42" y1="613.70" x2="627.42" y2="620.40" stroke="#000" stroke-width="1" stroke-linecap="round"/>
<line x1="643.07" y1="613.70" x2="643.07" y2="620.40" stroke="#000" stroke-width="1" stroke-linecap="round"/>
<text x="643.07" y="638.10" font-size="11.1" text-anchor="middle" fill="#000">0.20</text>
<line x1="658.71" y1="613.70" x2="658.71" y2="620.40" stroke="#000" stroke-width="1" stroke-linecap="round"/>
<line x1="674.35" y1="613.70" x2="674.35" y2="620.40" stroke="#000" stroke-width="1" stroke-linecap="round"/>
<text x="674.35" y="638.10" font-size="11.1" text-anchor="middle" fill="#000">0.30</text>
<text x="627.42" y="664.00" font-size="11.9" text-anchor="middle" fill="#000">Time (s)</text>
</svg></body></html>
